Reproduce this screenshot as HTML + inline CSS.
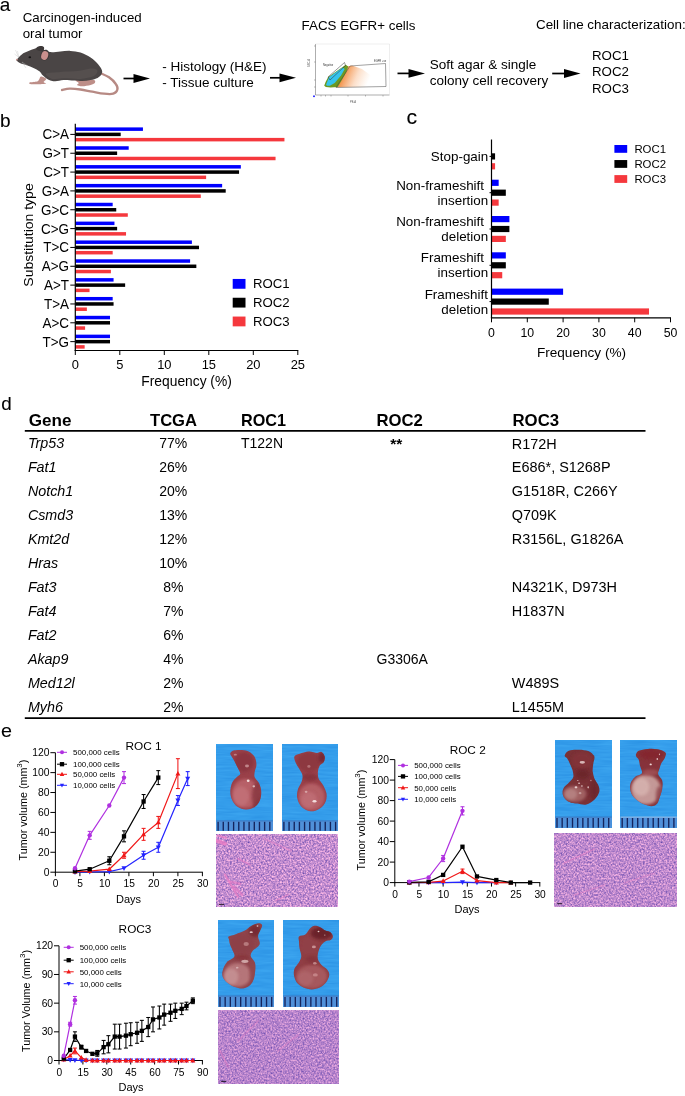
<!DOCTYPE html>
<html lang="en"><head><meta charset="utf-8"><title>Figure</title>
<style>
html,body{margin:0;padding:0;background:#fff;}
body{width:685px;height:1096px;overflow:hidden;}
svg{display:block;font-family:'Liberation Sans', sans-serif;}
</style></head><body>
<svg width="685" height="1096" viewBox="0 0 685 1096">
<rect width="685" height="1096" fill="#fff"/>
<g id="panel-a">
<text x="-0.2" y="11.2" font-size="19" stroke="#000" stroke-width="0.1">a</text>
<text x="22.70" y="21.60" font-size="13.3">Carcinogen-induced</text>
<text x="22.70" y="37.70" font-size="13.3">oral tumor</text>
<text x="162.20" y="71.30" font-size="13.5">- Histology (H&amp;E)</text>
<text x="162.20" y="87.40" font-size="13.5">- Tissue culture</text>
<text x="301.60" y="29.50" font-size="13.35">FACS EGFR+ cells</text>
<text x="429.80" y="68.50" font-size="13.5">Soft agar &amp; single</text>
<text x="429.80" y="84.50" font-size="13.5">colony cell recovery</text>
<text x="536.00" y="28.90" font-size="13.4">Cell line characterization:</text>
<text x="592.00" y="60.20" font-size="13.3">ROC1</text>
<text x="592.00" y="76.40" font-size="13.3">ROC2</text>
<text x="592.00" y="92.80" font-size="13.3">ROC3</text>
<line x1="123.50" y1="78.50" x2="138.00" y2="78.50" stroke="#000" stroke-width="1.7"/>
<polygon points="150.0,78.5 133.5,74.1 133.5,82.9" fill="#000"/>
<line x1="270.00" y1="77.80" x2="284.00" y2="77.80" stroke="#000" stroke-width="1.7"/>
<polygon points="296.0,77.8 279.5,73.4 279.5,82.2" fill="#000"/>
<line x1="397.50" y1="73.40" x2="413.00" y2="73.40" stroke="#000" stroke-width="1.7"/>
<polygon points="425.0,73.4 408.5,69.0 408.5,77.8" fill="#000"/>
<line x1="552.20" y1="73.50" x2="568.50" y2="73.50" stroke="#000" stroke-width="1.7"/>
<polygon points="580.5,73.5 564.0,69.1 564.0,77.9" fill="#000"/>
<g id="mouse">
<path d="M100.6,73.2 C102.0,73.9 106.5,75.5 109.0,77.3 C111.6,79.1 114.4,81.9 115.8,84.0 C117.2,86.0 117.9,87.9 117.4,89.5 C117.0,91.1 115.5,93.0 113.2,93.7 C111.0,94.4 107.5,94.1 104.0,93.7 C100.5,93.4 96.2,92.4 92.3,91.7 C88.3,91.0 84.3,90.0 80.5,89.5 C76.7,89.0 72.7,88.6 69.6,88.7 C66.5,88.8 63.3,89.8 62.0,90.0" fill="none" stroke="#b78a84" stroke-width="2.3" stroke-linecap="round"/>
<path d="M41.1,76.6 C42.2,76.6 45.7,78.1 46.1,78.9 C46.5,79.8 43.6,81.2 43.6,82.0 C43.6,82.8 46.9,83.3 46.1,83.6 C45.3,84.0 41.2,84.3 38.5,84.3 C35.9,84.4 31.6,84.3 30.1,84.0 C28.7,83.7 28.7,83.0 29.8,82.6 C30.9,82.2 35.3,82.2 36.9,81.6 C38.5,81.0 38.7,79.8 39.4,78.9 C40.1,78.1 39.9,76.6 41.1,76.6Z" fill="#bd8e88"/>
<path d="M75.5,80.3 C76.3,79.7 80.8,79.7 83.9,79.6 C86.9,79.6 92.1,79.4 93.9,80.0 C95.8,80.5 95.3,82.1 94.8,83.0 C94.2,83.8 92.7,84.4 90.6,85.0 C88.5,85.5 84.4,86.3 82.2,86.3 C79.9,86.3 77.7,85.5 77.1,85.0 C76.6,84.4 79.1,83.8 78.8,83.0 C78.5,82.2 74.6,80.8 75.5,80.3Z" fill="#bd8e88"/>
<path d="M16.7,59.8 C17.4,58.6 19.8,55.9 21.8,54.4 C23.7,53.0 26.2,52.1 28.5,51.1 C30.7,50.1 33.6,49.2 35.2,48.6 C36.8,47.9 36.8,47.2 38.2,47.4 C39.6,47.6 41.6,49.0 43.6,49.7 C45.6,50.5 47.5,51.8 50.3,52.1 C53.1,52.4 57.0,51.6 60.4,51.4 C63.7,51.2 67.1,50.7 70.4,50.9 C73.8,51.1 77.1,51.5 80.5,52.6 C83.9,53.7 87.6,55.7 90.6,57.6 C93.5,59.6 96.2,62.2 98.1,64.3 C100.0,66.5 101.5,68.8 102.0,70.6 C102.5,72.3 102.0,73.4 101.3,74.6 C100.6,75.8 99.4,77.0 97.6,77.9 C95.8,78.8 93.2,79.4 90.6,80.0 C88.0,80.5 85.0,80.9 82.2,81.0 C79.4,81.0 76.9,80.6 73.8,80.5 C70.7,80.3 66.8,79.8 63.7,80.0 C60.6,80.1 57.6,81.2 55.3,81.3 C53.1,81.4 51.8,81.0 50.3,80.5 C48.7,80.0 47.4,79.1 46.1,78.3 C44.8,77.4 43.9,76.4 42.7,75.3 C41.6,74.1 40.9,72.5 39.4,71.2 C37.8,70.0 35.6,68.8 33.5,67.9 C31.4,66.9 28.9,66.1 26.8,65.3 C24.7,64.6 22.5,64.1 20.9,63.5 C19.4,62.9 18.3,62.1 17.6,61.5 C16.9,60.9 16.0,61.0 16.7,59.8Z" fill="#4a4545"/>
<path d="M46.1,73.6 C47.5,72.4 55.2,72.3 60.4,71.9 C65.5,71.5 72.1,71.6 77.1,71.1 C82.2,70.5 87.2,68.7 90.6,68.5 C93.9,68.4 96.7,69.0 97.3,70.2 C97.9,71.5 96.7,74.6 93.9,76.1 C91.1,77.5 85.5,78.6 80.5,78.9 C75.5,79.3 68.5,78.3 63.7,78.3 C59.0,78.3 54.9,79.7 52.0,78.9 C49.0,78.2 44.7,74.7 46.1,73.6Z" fill="#575150" opacity="0.8"/>
<path d="M36.5,49.4 C36.1,48.7 36.9,47.3 37.7,46.7 C38.5,46.1 40.0,45.8 41.1,45.9 C42.1,45.9 43.5,46.3 43.9,47.1 C44.3,47.8 44.2,49.7 43.6,50.4 C43.0,51.1 41.4,51.2 40.2,51.1 C39.0,50.9 36.9,50.1 36.5,49.4Z" fill="#3d3939"/>
<ellipse cx="44.9" cy="55.1" rx="4.5" ry="5.5" fill="#3d3939" transform="rotate(18 44.9 55.1)"/>
<ellipse cx="44.7" cy="55.5" rx="3.4" ry="4.5" fill="#c9908d" transform="rotate(18 44.7 55.5)"/>
<ellipse cx="29.8" cy="57.3" rx="1.3" ry="1.0" fill="#141212"/>
<circle cx="16.9" cy="59.6" r="0.9" fill="#c9908d"/>
<path d="M18.5,57 L15.5,50 M18.8,57 L17.5,51 M19,57.5 L14.5,54 M22,62 L26,68 M22,62 L28,66" stroke="#bdbdbd" stroke-width="0.35" fill="none"/>
</g>
<g id="facs">
<rect x="313.00" y="43.00" width="78.00" height="54.00" fill="#fff"/>
<line x1="315.50" y1="44.00" x2="315.50" y2="95.00" stroke="#777" stroke-width="0.6"/>
<line x1="315.50" y1="95.00" x2="389.50" y2="95.00" stroke="#777" stroke-width="0.6"/>
<line x1="315.50" y1="44.00" x2="389.50" y2="44.00" stroke="#ddd" stroke-width="0.5"/>
<line x1="389.50" y1="44.00" x2="389.50" y2="95.00" stroke="#ddd" stroke-width="0.5"/>
<defs><linearGradient id="og" x1="0" y1="0" x2="1" y2="0.25"><stop offset="0" stop-color="#ee6a10" stop-opacity="0.95"/><stop offset="0.3" stop-color="#f07a22" stop-opacity="0.8"/><stop offset="0.65" stop-color="#f5934a" stop-opacity="0.3"/><stop offset="1" stop-color="#f8a868" stop-opacity="0"/></linearGradient></defs>
<polygon points="336,87.3 347.5,66.5 352,65.5 362,69 373,77 372,87" fill="url(#og)"/>
<polygon points="324.2,85.7 325.6,81.9 328.2,77.0 342.6,67.1 345.7,64.7 348.2,66.4 346.4,72.0 342.6,78.7 337.7,87.1 330.6,87.5 325.9,87.1" fill="#6b9a23"/>
<polygon points="326.1,84.7 328.9,77.3 342.6,67.5 344.7,68.9 341.2,75.2 334.7,82.9 329.9,85.7 326.8,85.7" fill="#35c4ee"/>
<polygon points="328,77 344.5,62.5 345.5,65.5 330,80" fill="none" stroke="#333" stroke-width="0.5"/>
<polygon points="350,66 385.5,63.5 386,86.5 336,87.5" fill="none" stroke="#444" stroke-width="0.5"/>
<text x="323.00" y="65.50" font-size="2.6" fill="#333">Negative</text>
<text x="374.00" y="61.50" font-size="2.6" fill="#333">EGFR +ve</text>
<text x="350.00" y="102.50" font-size="2.6" fill="#555">PE-A</text>
<text font-size="2.6" fill="#555" transform="translate(310,67) rotate(-90)">SSC-A</text>
<rect x="313.00" y="95.50" width="2.00" height="1.60" fill="#3a3aff"/>
<line x1="321.00" y1="95.00" x2="321.00" y2="96.50" stroke="#777" stroke-width="0.5"/>
<line x1="325.50" y1="95.00" x2="325.50" y2="96.50" stroke="#777" stroke-width="0.5"/>
<line x1="331.00" y1="95.00" x2="331.00" y2="96.50" stroke="#777" stroke-width="0.5"/>
<line x1="348.00" y1="95.00" x2="348.00" y2="96.50" stroke="#777" stroke-width="0.5"/>
<line x1="365.50" y1="95.00" x2="365.50" y2="96.50" stroke="#777" stroke-width="0.5"/>
<line x1="383.00" y1="95.00" x2="383.00" y2="96.50" stroke="#777" stroke-width="0.5"/>
<line x1="314.00" y1="46.00" x2="315.50" y2="46.00" stroke="#777" stroke-width="0.5"/>
<line x1="314.00" y1="62.00" x2="315.50" y2="62.00" stroke="#777" stroke-width="0.5"/>
<line x1="314.00" y1="80.00" x2="315.50" y2="80.00" stroke="#777" stroke-width="0.5"/>
<line x1="314.00" y1="87.00" x2="315.50" y2="87.00" stroke="#777" stroke-width="0.5"/>
</g>
</g>
<g id="panel-b">
<text x="-0.1" y="126.9" font-size="19" stroke="#000" stroke-width="0.1">b</text>
<rect x="75.30" y="127.40" width="67.64" height="3.50" fill="#0000ff"/>
<rect x="75.30" y="132.65" width="45.39" height="3.50" fill="#000000"/>
<rect x="75.30" y="137.90" width="209.15" height="3.50" fill="#f5383d"/>
<line x1="70.30" y1="134.40" x2="75.30" y2="134.40" stroke="#000" stroke-width="1"/>
<text font-size="13.9" text-anchor="end" transform="translate(69.00,139.30) scale(0.97,1)">C&gt;A</text>
<rect x="75.30" y="146.24" width="53.40" height="3.50" fill="#0000ff"/>
<rect x="75.30" y="151.49" width="41.83" height="3.50" fill="#000000"/>
<rect x="75.30" y="156.74" width="200.25" height="3.50" fill="#f5383d"/>
<line x1="70.30" y1="153.24" x2="75.30" y2="153.24" stroke="#000" stroke-width="1"/>
<text font-size="13.9" text-anchor="end" transform="translate(69.00,158.14) scale(0.97,1)">G&gt;T</text>
<rect x="75.30" y="165.08" width="165.54" height="3.50" fill="#0000ff"/>
<rect x="75.30" y="170.33" width="163.76" height="3.50" fill="#000000"/>
<rect x="75.30" y="175.58" width="130.83" height="3.50" fill="#f5383d"/>
<line x1="70.30" y1="172.08" x2="75.30" y2="172.08" stroke="#000" stroke-width="1"/>
<text font-size="13.9" text-anchor="end" transform="translate(69.00,176.98) scale(0.97,1)">C&gt;T</text>
<rect x="75.30" y="183.92" width="146.85" height="3.50" fill="#0000ff"/>
<rect x="75.30" y="189.17" width="150.41" height="3.50" fill="#000000"/>
<rect x="75.30" y="194.42" width="125.49" height="3.50" fill="#f5383d"/>
<line x1="70.30" y1="190.92" x2="75.30" y2="190.92" stroke="#000" stroke-width="1"/>
<text font-size="13.9" text-anchor="end" transform="translate(69.00,195.82) scale(0.97,1)">G&gt;A</text>
<rect x="75.30" y="202.76" width="37.38" height="3.50" fill="#0000ff"/>
<rect x="75.30" y="208.01" width="40.94" height="3.50" fill="#000000"/>
<rect x="75.30" y="213.26" width="52.51" height="3.50" fill="#f5383d"/>
<line x1="70.30" y1="209.76" x2="75.30" y2="209.76" stroke="#000" stroke-width="1"/>
<text font-size="13.9" text-anchor="end" transform="translate(69.00,214.66) scale(0.97,1)">G&gt;C</text>
<rect x="75.30" y="221.60" width="39.16" height="3.50" fill="#0000ff"/>
<rect x="75.30" y="226.85" width="41.83" height="3.50" fill="#000000"/>
<rect x="75.30" y="232.10" width="50.73" height="3.50" fill="#f5383d"/>
<line x1="70.30" y1="228.60" x2="75.30" y2="228.60" stroke="#000" stroke-width="1"/>
<text font-size="13.9" text-anchor="end" transform="translate(69.00,233.50) scale(0.97,1)">C&gt;G</text>
<rect x="75.30" y="240.44" width="116.59" height="3.50" fill="#0000ff"/>
<rect x="75.30" y="245.69" width="123.71" height="3.50" fill="#000000"/>
<rect x="75.30" y="250.94" width="37.38" height="3.50" fill="#f5383d"/>
<line x1="70.30" y1="247.44" x2="75.30" y2="247.44" stroke="#000" stroke-width="1"/>
<text font-size="13.9" text-anchor="end" transform="translate(69.00,252.34) scale(0.97,1)">T&gt;C</text>
<rect x="75.30" y="259.28" width="114.81" height="3.50" fill="#0000ff"/>
<rect x="75.30" y="264.53" width="121.04" height="3.50" fill="#000000"/>
<rect x="75.30" y="269.78" width="35.60" height="3.50" fill="#f5383d"/>
<line x1="70.30" y1="266.28" x2="75.30" y2="266.28" stroke="#000" stroke-width="1"/>
<text font-size="13.9" text-anchor="end" transform="translate(69.00,271.18) scale(0.97,1)">A&gt;G</text>
<rect x="75.30" y="278.12" width="38.27" height="3.50" fill="#0000ff"/>
<rect x="75.30" y="283.37" width="49.84" height="3.50" fill="#000000"/>
<rect x="75.30" y="288.62" width="14.24" height="3.50" fill="#f5383d"/>
<line x1="70.30" y1="285.12" x2="75.30" y2="285.12" stroke="#000" stroke-width="1"/>
<text font-size="13.9" text-anchor="end" transform="translate(69.00,290.02) scale(0.97,1)">A&gt;T</text>
<rect x="75.30" y="296.96" width="37.38" height="3.50" fill="#0000ff"/>
<rect x="75.30" y="302.21" width="38.27" height="3.50" fill="#000000"/>
<rect x="75.30" y="307.46" width="11.57" height="3.50" fill="#f5383d"/>
<line x1="70.30" y1="303.96" x2="75.30" y2="303.96" stroke="#000" stroke-width="1"/>
<text font-size="13.9" text-anchor="end" transform="translate(69.00,308.86) scale(0.97,1)">T&gt;A</text>
<rect x="75.30" y="315.80" width="34.71" height="3.50" fill="#0000ff"/>
<rect x="75.30" y="321.05" width="34.71" height="3.50" fill="#000000"/>
<rect x="75.30" y="326.30" width="9.79" height="3.50" fill="#f5383d"/>
<line x1="70.30" y1="322.80" x2="75.30" y2="322.80" stroke="#000" stroke-width="1"/>
<text font-size="13.9" text-anchor="end" transform="translate(69.00,327.70) scale(0.97,1)">A&gt;C</text>
<rect x="75.30" y="334.64" width="34.71" height="3.50" fill="#0000ff"/>
<rect x="75.30" y="339.89" width="34.71" height="3.50" fill="#000000"/>
<rect x="75.30" y="345.14" width="9.35" height="3.50" fill="#f5383d"/>
<line x1="70.30" y1="341.64" x2="75.30" y2="341.64" stroke="#000" stroke-width="1"/>
<text font-size="13.9" text-anchor="end" transform="translate(69.00,346.54) scale(0.97,1)">T&gt;G</text>
<line x1="75.30" y1="123.80" x2="75.30" y2="351.00" stroke="#000" stroke-width="1.2"/>
<line x1="74.70" y1="350.50" x2="298.30" y2="350.50" stroke="#000" stroke-width="1.2"/>
<line x1="75.30" y1="350.50" x2="75.30" y2="355.00" stroke="#000" stroke-width="1"/>
<text x="75.30" y="368.50" font-size="12.9" text-anchor="middle">0</text>
<line x1="119.80" y1="350.50" x2="119.80" y2="355.00" stroke="#000" stroke-width="1"/>
<text x="119.80" y="368.50" font-size="12.9" text-anchor="middle">5</text>
<line x1="164.30" y1="350.50" x2="164.30" y2="355.00" stroke="#000" stroke-width="1"/>
<text x="164.30" y="368.50" font-size="12.9" text-anchor="middle">10</text>
<line x1="208.80" y1="350.50" x2="208.80" y2="355.00" stroke="#000" stroke-width="1"/>
<text x="208.80" y="368.50" font-size="12.9" text-anchor="middle">15</text>
<line x1="253.30" y1="350.50" x2="253.30" y2="355.00" stroke="#000" stroke-width="1"/>
<text x="253.30" y="368.50" font-size="12.9" text-anchor="middle">20</text>
<line x1="297.80" y1="350.50" x2="297.80" y2="355.00" stroke="#000" stroke-width="1"/>
<text x="297.80" y="368.50" font-size="12.9" text-anchor="middle">25</text>
<text x="186.60" y="386.30" font-size="13.8" text-anchor="middle">Frequency (%)</text>
<text font-size="12.6" text-anchor="middle" transform="translate(33.4,235) rotate(-90) scale(1.11,1)">Substitution type</text>
<rect x="232.70" y="278.95" width="12.80" height="9.80" fill="#0000ff"/>
<text x="253.00" y="288.40" font-size="13.2">ROC1</text>
<rect x="232.70" y="297.75" width="12.80" height="9.80" fill="#000000"/>
<text x="253.00" y="307.20" font-size="13.2">ROC2</text>
<rect x="232.70" y="316.55" width="12.80" height="9.80" fill="#f5383d"/>
<text x="253.00" y="326.00" font-size="13.2">ROC3</text>
</g>
<g id="panel-c">
<text font-size="19.8" stroke="#000" stroke-width="0.1" transform="translate(406.5,124) scale(1.07,1)">c</text>
<rect x="491.50" y="153.30" width="3.58" height="6.20" fill="#000000"/>
<rect x="491.50" y="163.20" width="3.58" height="6.20" fill="#f5383d"/>
<line x1="489.50" y1="156.40" x2="491.50" y2="156.40" stroke="#000" stroke-width="1"/>
<text font-size="13.4" text-anchor="end" transform="translate(488.20,160.80) scale(1.0,1)">Stop-gain</text>
<rect x="491.50" y="179.70" width="7.16" height="6.20" fill="#0000ff"/>
<rect x="491.50" y="189.60" width="14.32" height="6.20" fill="#000000"/>
<rect x="491.50" y="199.50" width="7.16" height="6.20" fill="#f5383d"/>
<line x1="489.50" y1="192.70" x2="491.50" y2="192.70" stroke="#000" stroke-width="1"/>
<text font-size="13.4" text-anchor="end" transform="translate(484.00,189.60) scale(1.0,1)">Non-frameshift</text>
<text font-size="13.4" text-anchor="end" transform="translate(488.20,204.60) scale(1.0,1)">insertion</text>
<rect x="491.50" y="216.00" width="17.90" height="6.20" fill="#0000ff"/>
<rect x="491.50" y="225.90" width="17.90" height="6.20" fill="#000000"/>
<rect x="491.50" y="235.80" width="14.32" height="6.20" fill="#f5383d"/>
<line x1="489.50" y1="229.00" x2="491.50" y2="229.00" stroke="#000" stroke-width="1"/>
<text font-size="13.4" text-anchor="end" transform="translate(484.00,225.90) scale(1.0,1)">Non-frameshift</text>
<text font-size="13.4" text-anchor="end" transform="translate(488.20,240.90) scale(1.0,1)">deletion</text>
<rect x="491.50" y="252.30" width="14.32" height="6.20" fill="#0000ff"/>
<rect x="491.50" y="262.20" width="14.32" height="6.20" fill="#000000"/>
<rect x="491.50" y="272.10" width="10.74" height="6.20" fill="#f5383d"/>
<line x1="489.50" y1="265.30" x2="491.50" y2="265.30" stroke="#000" stroke-width="1"/>
<text font-size="13.4" text-anchor="end" transform="translate(484.00,262.20) scale(1.0,1)">Frameshift</text>
<text font-size="13.4" text-anchor="end" transform="translate(488.20,277.20) scale(1.0,1)">insertion</text>
<rect x="491.50" y="288.60" width="71.60" height="6.20" fill="#0000ff"/>
<rect x="491.50" y="298.50" width="57.28" height="6.20" fill="#000000"/>
<rect x="491.50" y="308.40" width="157.52" height="6.20" fill="#f5383d"/>
<line x1="489.50" y1="301.60" x2="491.50" y2="301.60" stroke="#000" stroke-width="1"/>
<text font-size="13.4" text-anchor="end" transform="translate(487.90,298.50) scale(1.0,1)">Frameshift</text>
<text font-size="13.4" text-anchor="end" transform="translate(488.20,313.50) scale(1.0,1)">deletion</text>
<line x1="491.50" y1="139.50" x2="491.50" y2="318.30" stroke="#000" stroke-width="1.2"/>
<line x1="490.90" y1="317.80" x2="671.00" y2="317.80" stroke="#000" stroke-width="1.2"/>
<line x1="491.50" y1="317.80" x2="491.50" y2="322.30" stroke="#000" stroke-width="1"/>
<text x="491.50" y="336.80" font-size="12.3" text-anchor="middle">0</text>
<line x1="527.30" y1="317.80" x2="527.30" y2="322.30" stroke="#000" stroke-width="1"/>
<text x="527.30" y="336.80" font-size="12.3" text-anchor="middle">10</text>
<line x1="563.10" y1="317.80" x2="563.10" y2="322.30" stroke="#000" stroke-width="1"/>
<text x="563.10" y="336.80" font-size="12.3" text-anchor="middle">20</text>
<line x1="598.90" y1="317.80" x2="598.90" y2="322.30" stroke="#000" stroke-width="1"/>
<text x="598.90" y="336.80" font-size="12.3" text-anchor="middle">30</text>
<line x1="634.70" y1="317.80" x2="634.70" y2="322.30" stroke="#000" stroke-width="1"/>
<text x="634.70" y="336.80" font-size="12.3" text-anchor="middle">40</text>
<line x1="670.50" y1="317.80" x2="670.50" y2="322.30" stroke="#000" stroke-width="1"/>
<text x="670.50" y="336.80" font-size="12.3" text-anchor="middle">50</text>
<text x="581.50" y="357.00" font-size="13.6" text-anchor="middle">Frequency (%)</text>
<rect x="614.40" y="145.00" width="12.80" height="7.80" fill="#0000ff"/>
<text x="634.40" y="152.70" font-size="11.4">ROC1</text>
<rect x="614.40" y="160.05" width="12.80" height="7.80" fill="#000000"/>
<text x="634.40" y="167.75" font-size="11.4">ROC2</text>
<rect x="614.40" y="175.10" width="12.80" height="7.80" fill="#f5383d"/>
<text x="634.40" y="182.80" font-size="11.4">ROC3</text>
</g>
<g id="panel-d">
<text x="1.3" y="410" font-size="18.8" stroke="#000" stroke-width="0.1">d</text>
<text x="28.70" y="426.30" font-size="17.1" font-weight="bold">Gene</text>
<text x="150.00" y="426.30" font-size="16.6" font-weight="bold">TCGA</text>
<text x="241.00" y="426.30" font-size="16.2" font-weight="bold">ROC1</text>
<text x="376.50" y="426.30" font-size="16.7" font-weight="bold">ROC2</text>
<text x="512.50" y="426.30" font-size="16.8" font-weight="bold">ROC3</text>
<line x1="24.80" y1="430.90" x2="645.50" y2="430.90" stroke="#000" stroke-width="1.7"/>
<line x1="24.80" y1="718.10" x2="645.50" y2="718.10" stroke="#000" stroke-width="1.7"/>
<text x="27.90" y="448.20" font-size="14.3" font-style="italic">Trp53</text>
<text x="173.30" y="448.20" font-size="14" text-anchor="middle">77%</text>
<text x="241.00" y="448.20" font-size="14">T122N</text>
<text x="396.30" y="448.70" font-size="15.5" text-anchor="middle" font-weight="bold">**</text>
<text x="511.80" y="448.50" font-size="14.45">R172H</text>
<text x="27.90" y="472.18" font-size="14.3" font-style="italic">Fat1</text>
<text x="173.30" y="472.18" font-size="14" text-anchor="middle">26%</text>
<text x="511.80" y="472.48" font-size="14.45">E686*, S1268P</text>
<text x="27.90" y="496.16" font-size="14.3" font-style="italic">Notch1</text>
<text x="173.30" y="496.16" font-size="14" text-anchor="middle">20%</text>
<text x="511.80" y="496.46" font-size="14.45">G1518R, C266Y</text>
<text x="27.90" y="520.14" font-size="14.3" font-style="italic">Csmd3</text>
<text x="173.30" y="520.14" font-size="14" text-anchor="middle">13%</text>
<text x="511.80" y="520.44" font-size="14.45">Q709K</text>
<text x="27.90" y="544.12" font-size="14.3" font-style="italic">Kmt2d</text>
<text x="173.30" y="544.12" font-size="14" text-anchor="middle">12%</text>
<text x="511.80" y="544.42" font-size="14.45">R3156L, G1826A</text>
<text x="27.90" y="568.10" font-size="14.3" font-style="italic">Hras</text>
<text x="173.30" y="568.10" font-size="14" text-anchor="middle">10%</text>
<text x="27.90" y="592.08" font-size="14.3" font-style="italic">Fat3</text>
<text x="173.30" y="592.08" font-size="14" text-anchor="middle">8%</text>
<text x="511.80" y="592.38" font-size="14.45">N4321K, D973H</text>
<text x="27.90" y="616.06" font-size="14.3" font-style="italic">Fat4</text>
<text x="173.30" y="616.06" font-size="14" text-anchor="middle">7%</text>
<text x="511.80" y="616.36" font-size="14.45">H1837N</text>
<text x="27.90" y="640.04" font-size="14.3" font-style="italic">Fat2</text>
<text x="173.30" y="640.04" font-size="14" text-anchor="middle">6%</text>
<text x="27.90" y="664.02" font-size="14.3" font-style="italic">Akap9</text>
<text x="173.30" y="664.02" font-size="14" text-anchor="middle">4%</text>
<text x="376.50" y="664.02" font-size="14">G3306A</text>
<text x="27.90" y="688.00" font-size="14.3" font-style="italic">Med12l</text>
<text x="173.30" y="688.00" font-size="14" text-anchor="middle">2%</text>
<text x="511.80" y="688.30" font-size="14.45">W489S</text>
<text x="27.90" y="711.98" font-size="14.3" font-style="italic">Myh6</text>
<text x="173.30" y="711.98" font-size="14" text-anchor="middle">2%</text>
<text x="511.80" y="712.28" font-size="14.45">L1455M</text>
</g>
<g id="panel-e">
<text font-size="18.6" stroke="#000" stroke-width="0.1" transform="translate(0.9,736.6) scale(1.06,1)">e</text>
<line x1="55.40" y1="752.70" x2="55.40" y2="872.70" stroke="#000" stroke-width="1"/>
<line x1="54.90" y1="872.20" x2="202.90" y2="872.20" stroke="#000" stroke-width="1"/>
<line x1="50.40" y1="872.20" x2="55.40" y2="872.20" stroke="#000" stroke-width="1"/>
<line x1="50.40" y1="852.28" x2="55.40" y2="852.28" stroke="#000" stroke-width="1"/>
<line x1="50.40" y1="832.37" x2="55.40" y2="832.37" stroke="#000" stroke-width="1"/>
<line x1="50.40" y1="812.45" x2="55.40" y2="812.45" stroke="#000" stroke-width="1"/>
<line x1="50.40" y1="792.53" x2="55.40" y2="792.53" stroke="#000" stroke-width="1"/>
<line x1="50.40" y1="772.62" x2="55.40" y2="772.62" stroke="#000" stroke-width="1"/>
<line x1="50.40" y1="752.70" x2="55.40" y2="752.70" stroke="#000" stroke-width="1"/>
<line x1="55.40" y1="872.20" x2="55.40" y2="876.20" stroke="#000" stroke-width="1"/>
<line x1="79.90" y1="872.20" x2="79.90" y2="876.20" stroke="#000" stroke-width="1"/>
<line x1="104.40" y1="872.20" x2="104.40" y2="876.20" stroke="#000" stroke-width="1"/>
<line x1="128.90" y1="872.20" x2="128.90" y2="876.20" stroke="#000" stroke-width="1"/>
<line x1="153.40" y1="872.20" x2="153.40" y2="876.20" stroke="#000" stroke-width="1"/>
<line x1="177.90" y1="872.20" x2="177.90" y2="876.20" stroke="#000" stroke-width="1"/>
<line x1="202.40" y1="872.20" x2="202.40" y2="876.20" stroke="#000" stroke-width="1"/>
<polyline points="75.00,872.20 89.70,871.90 109.30,871.70 124.00,868.22 143.60,855.27 158.30,847.30 177.90,800.50 187.70,778.59" fill="none" stroke="#2424ff" stroke-width="1.2" stroke-linejoin="round"/>
<line x1="143.60" y1="859.25" x2="143.60" y2="851.29" stroke="#2424ff" stroke-width="1.05"/>
<line x1="141.60" y1="859.25" x2="145.60" y2="859.25" stroke="#2424ff" stroke-width="1.05"/>
<line x1="141.60" y1="851.29" x2="145.60" y2="851.29" stroke="#2424ff" stroke-width="1.05"/>
<line x1="158.30" y1="852.28" x2="158.30" y2="842.33" stroke="#2424ff" stroke-width="1.05"/>
<line x1="156.30" y1="852.28" x2="160.30" y2="852.28" stroke="#2424ff" stroke-width="1.05"/>
<line x1="156.30" y1="842.33" x2="160.30" y2="842.33" stroke="#2424ff" stroke-width="1.05"/>
<line x1="177.90" y1="805.48" x2="177.90" y2="795.52" stroke="#2424ff" stroke-width="1.05"/>
<line x1="175.90" y1="805.48" x2="179.90" y2="805.48" stroke="#2424ff" stroke-width="1.05"/>
<line x1="175.90" y1="795.52" x2="179.90" y2="795.52" stroke="#2424ff" stroke-width="1.05"/>
<line x1="187.70" y1="785.56" x2="187.70" y2="771.62" stroke="#2424ff" stroke-width="1.05"/>
<line x1="185.70" y1="785.56" x2="189.70" y2="785.56" stroke="#2424ff" stroke-width="1.05"/>
<line x1="185.70" y1="771.62" x2="189.70" y2="771.62" stroke="#2424ff" stroke-width="1.05"/>
<polygon points="75.00,874.90 72.50,870.30 77.50,870.30" fill="#2424ff"/>
<polygon points="89.70,874.60 87.20,870.00 92.20,870.00" fill="#2424ff"/>
<polygon points="109.30,874.40 106.80,869.80 111.80,869.80" fill="#2424ff"/>
<polygon points="124.00,870.92 121.50,866.32 126.50,866.32" fill="#2424ff"/>
<polygon points="143.60,857.97 141.10,853.37 146.10,853.37" fill="#2424ff"/>
<polygon points="158.30,850.00 155.80,845.40 160.80,845.40" fill="#2424ff"/>
<polygon points="177.90,803.20 175.40,798.60 180.40,798.60" fill="#2424ff"/>
<polygon points="187.70,781.29 185.20,776.69 190.20,776.69" fill="#2424ff"/>
<polyline points="75.00,871.70 89.70,871.20 109.30,869.21 124.00,855.27 143.60,834.36 158.30,822.41 177.90,773.61" fill="none" stroke="#f01818" stroke-width="1.2" stroke-linejoin="round"/>
<line x1="124.00" y1="858.26" x2="124.00" y2="852.28" stroke="#f01818" stroke-width="1.05"/>
<line x1="122.00" y1="858.26" x2="126.00" y2="858.26" stroke="#f01818" stroke-width="1.05"/>
<line x1="122.00" y1="852.28" x2="126.00" y2="852.28" stroke="#f01818" stroke-width="1.05"/>
<line x1="143.60" y1="840.33" x2="143.60" y2="828.38" stroke="#f01818" stroke-width="1.05"/>
<line x1="141.60" y1="840.33" x2="145.60" y2="840.33" stroke="#f01818" stroke-width="1.05"/>
<line x1="141.60" y1="828.38" x2="145.60" y2="828.38" stroke="#f01818" stroke-width="1.05"/>
<line x1="158.30" y1="828.38" x2="158.30" y2="816.43" stroke="#f01818" stroke-width="1.05"/>
<line x1="156.30" y1="828.38" x2="160.30" y2="828.38" stroke="#f01818" stroke-width="1.05"/>
<line x1="156.30" y1="816.43" x2="160.30" y2="816.43" stroke="#f01818" stroke-width="1.05"/>
<line x1="177.90" y1="788.55" x2="177.90" y2="758.68" stroke="#f01818" stroke-width="1.05"/>
<line x1="175.90" y1="788.55" x2="179.90" y2="788.55" stroke="#f01818" stroke-width="1.05"/>
<line x1="175.90" y1="758.68" x2="179.90" y2="758.68" stroke="#f01818" stroke-width="1.05"/>
<polygon points="75.00,869.00 72.50,873.60 77.50,873.60" fill="#f01818"/>
<polygon points="89.70,868.50 87.20,873.10 92.20,873.10" fill="#f01818"/>
<polygon points="109.30,866.51 106.80,871.11 111.80,871.11" fill="#f01818"/>
<polygon points="124.00,852.57 121.50,857.17 126.50,857.17" fill="#f01818"/>
<polygon points="143.60,831.66 141.10,836.26 146.10,836.26" fill="#f01818"/>
<polygon points="158.30,819.71 155.80,824.31 160.80,824.31" fill="#f01818"/>
<polygon points="177.90,770.91 175.40,775.51 180.40,775.51" fill="#f01818"/>
<polyline points="75.00,871.20 89.70,869.21 109.30,860.75 124.00,836.35 143.60,801.50 158.30,777.60" fill="none" stroke="#000" stroke-width="1.2" stroke-linejoin="round"/>
<line x1="109.30" y1="864.73" x2="109.30" y2="856.76" stroke="#000" stroke-width="1.05"/>
<line x1="107.30" y1="864.73" x2="111.30" y2="864.73" stroke="#000" stroke-width="1.05"/>
<line x1="107.30" y1="856.76" x2="111.30" y2="856.76" stroke="#000" stroke-width="1.05"/>
<line x1="124.00" y1="841.83" x2="124.00" y2="830.87" stroke="#000" stroke-width="1.05"/>
<line x1="122.00" y1="841.83" x2="126.00" y2="841.83" stroke="#000" stroke-width="1.05"/>
<line x1="122.00" y1="830.87" x2="126.00" y2="830.87" stroke="#000" stroke-width="1.05"/>
<line x1="143.60" y1="808.47" x2="143.60" y2="794.53" stroke="#000" stroke-width="1.05"/>
<line x1="141.60" y1="808.47" x2="145.60" y2="808.47" stroke="#000" stroke-width="1.05"/>
<line x1="141.60" y1="794.53" x2="145.60" y2="794.53" stroke="#000" stroke-width="1.05"/>
<line x1="158.30" y1="784.57" x2="158.30" y2="770.62" stroke="#000" stroke-width="1.05"/>
<line x1="156.30" y1="784.57" x2="160.30" y2="784.57" stroke="#000" stroke-width="1.05"/>
<line x1="156.30" y1="770.62" x2="160.30" y2="770.62" stroke="#000" stroke-width="1.05"/>
<rect x="72.85" y="869.05" width="4.30" height="4.30" fill="#000"/>
<rect x="87.55" y="867.06" width="4.30" height="4.30" fill="#000"/>
<rect x="107.15" y="858.60" width="4.30" height="4.30" fill="#000"/>
<rect x="121.85" y="834.20" width="4.30" height="4.30" fill="#000"/>
<rect x="141.45" y="799.35" width="4.30" height="4.30" fill="#000"/>
<rect x="156.15" y="775.45" width="4.30" height="4.30" fill="#000"/>
<polyline points="75.00,868.22 89.70,835.35 109.30,805.48 124.00,777.60" fill="none" stroke="#b030e0" stroke-width="1.2" stroke-linejoin="round"/>
<line x1="89.70" y1="839.34" x2="89.70" y2="831.37" stroke="#b030e0" stroke-width="1.05"/>
<line x1="87.70" y1="839.34" x2="91.70" y2="839.34" stroke="#b030e0" stroke-width="1.05"/>
<line x1="87.70" y1="831.37" x2="91.70" y2="831.37" stroke="#b030e0" stroke-width="1.05"/>
<line x1="124.00" y1="783.57" x2="124.00" y2="771.62" stroke="#b030e0" stroke-width="1.05"/>
<line x1="122.00" y1="783.57" x2="126.00" y2="783.57" stroke="#b030e0" stroke-width="1.05"/>
<line x1="122.00" y1="771.62" x2="126.00" y2="771.62" stroke="#b030e0" stroke-width="1.05"/>
<circle cx="75.00" cy="868.22" r="2.20" fill="#b030e0"/>
<circle cx="89.70" cy="835.35" r="2.20" fill="#b030e0"/>
<circle cx="109.30" cy="805.48" r="2.20" fill="#b030e0"/>
<circle cx="124.00" cy="777.60" r="2.20" fill="#b030e0"/>
<text x="49.50" y="875.85" font-size="10.3" text-anchor="end">0</text>
<text x="49.50" y="855.93" font-size="10.3" text-anchor="end">20</text>
<text x="49.50" y="836.02" font-size="10.3" text-anchor="end">40</text>
<text x="49.50" y="816.10" font-size="10.3" text-anchor="end">60</text>
<text x="49.50" y="796.18" font-size="10.3" text-anchor="end">80</text>
<text x="49.50" y="776.27" font-size="10.3" text-anchor="end">100</text>
<text x="49.50" y="756.35" font-size="10.3" text-anchor="end">120</text>
<text x="55.70" y="887.20" font-size="10.2" text-anchor="middle">0</text>
<text x="80.20" y="887.20" font-size="10.2" text-anchor="middle">5</text>
<text x="104.70" y="887.20" font-size="10.2" text-anchor="middle">10</text>
<text x="129.20" y="887.20" font-size="10.2" text-anchor="middle">15</text>
<text x="153.70" y="887.20" font-size="10.2" text-anchor="middle">20</text>
<text x="178.20" y="887.20" font-size="10.2" text-anchor="middle">25</text>
<text x="202.70" y="887.20" font-size="10.2" text-anchor="middle">30</text>
<text x="143.60" y="749.60" font-size="11.8" text-anchor="middle">ROC 1</text>
<text x="128.60" y="902.60" font-size="11.0" text-anchor="middle">Days</text>
<text font-size="10.75" text-anchor="middle" transform="translate(26.9,810.0) rotate(-90)">Tumor volume (mm<tspan dy="-5.2" font-size="8">3</tspan><tspan dy="5.2">)</tspan></text>
<line x1="57.00" y1="752.30" x2="67.00" y2="752.30" stroke="#b030e0" stroke-width="1"/>
<circle cx="62.00" cy="752.30" r="1.98" fill="#b030e0"/>
<text x="73.10" y="755.10" font-size="7.9">500,000 cells</text>
<line x1="57.00" y1="764.20" x2="67.00" y2="764.20" stroke="#000" stroke-width="1"/>
<rect x="59.85" y="762.05" width="4.30" height="4.30" fill="#000"/>
<text x="73.10" y="767.00" font-size="7.9">100,000 cells</text>
<line x1="57.00" y1="774.30" x2="67.00" y2="774.30" stroke="#f01818" stroke-width="1"/>
<polygon points="62.00,771.87 59.75,776.01 64.25,776.01" fill="#f01818"/>
<text x="73.10" y="777.10" font-size="7.9">50,000 cells</text>
<line x1="57.00" y1="785.30" x2="67.00" y2="785.30" stroke="#2424ff" stroke-width="1"/>
<polygon points="62.00,787.59 59.88,783.68 64.12,783.68" fill="#2424ff"/>
<text x="73.10" y="788.10" font-size="7.9">10,000 cells</text>
<line x1="394.80" y1="759.60" x2="394.80" y2="883.10" stroke="#000" stroke-width="1"/>
<line x1="394.30" y1="882.60" x2="540.30" y2="882.60" stroke="#000" stroke-width="1"/>
<line x1="389.80" y1="882.60" x2="394.80" y2="882.60" stroke="#000" stroke-width="1"/>
<line x1="389.80" y1="862.10" x2="394.80" y2="862.10" stroke="#000" stroke-width="1"/>
<line x1="389.80" y1="841.60" x2="394.80" y2="841.60" stroke="#000" stroke-width="1"/>
<line x1="389.80" y1="821.10" x2="394.80" y2="821.10" stroke="#000" stroke-width="1"/>
<line x1="389.80" y1="800.60" x2="394.80" y2="800.60" stroke="#000" stroke-width="1"/>
<line x1="389.80" y1="780.10" x2="394.80" y2="780.10" stroke="#000" stroke-width="1"/>
<line x1="389.80" y1="759.60" x2="394.80" y2="759.60" stroke="#000" stroke-width="1"/>
<line x1="394.80" y1="882.60" x2="394.80" y2="886.60" stroke="#000" stroke-width="1"/>
<line x1="418.97" y1="882.60" x2="418.97" y2="886.60" stroke="#000" stroke-width="1"/>
<line x1="443.13" y1="882.60" x2="443.13" y2="886.60" stroke="#000" stroke-width="1"/>
<line x1="467.30" y1="882.60" x2="467.30" y2="886.60" stroke="#000" stroke-width="1"/>
<line x1="491.47" y1="882.60" x2="491.47" y2="886.60" stroke="#000" stroke-width="1"/>
<line x1="515.63" y1="882.60" x2="515.63" y2="886.60" stroke="#000" stroke-width="1"/>
<line x1="539.80" y1="882.60" x2="539.80" y2="886.60" stroke="#000" stroke-width="1"/>
<polyline points="409.30,882.60 428.63,882.60 443.13,882.60 462.47,882.19 476.97,882.60 496.30,882.60" fill="none" stroke="#2424ff" stroke-width="1.2" stroke-linejoin="round"/>
<polygon points="409.30,885.30 406.80,880.70 411.80,880.70" fill="#2424ff"/>
<polygon points="428.63,885.30 426.13,880.70 431.13,880.70" fill="#2424ff"/>
<polygon points="443.13,885.30 440.63,880.70 445.63,880.70" fill="#2424ff"/>
<polygon points="462.47,884.89 459.97,880.29 464.97,880.29" fill="#2424ff"/>
<polygon points="476.97,885.30 474.47,880.70 479.47,880.70" fill="#2424ff"/>
<polygon points="496.30,885.30 493.80,880.70 498.80,880.70" fill="#2424ff"/>
<polyline points="409.30,882.60 428.63,882.39 443.13,881.06 462.47,871.33 476.97,880.55 496.30,882.60 510.80,882.60" fill="none" stroke="#f01818" stroke-width="1.2" stroke-linejoin="round"/>
<line x1="462.47" y1="873.58" x2="462.47" y2="869.07" stroke="#f01818" stroke-width="1.05"/>
<line x1="460.47" y1="873.58" x2="464.47" y2="873.58" stroke="#f01818" stroke-width="1.05"/>
<line x1="460.47" y1="869.07" x2="464.47" y2="869.07" stroke="#f01818" stroke-width="1.05"/>
<polygon points="409.30,879.90 406.80,884.50 411.80,884.50" fill="#f01818"/>
<polygon points="428.63,879.69 426.13,884.29 431.13,884.29" fill="#f01818"/>
<polygon points="443.13,878.36 440.63,882.96 445.63,882.96" fill="#f01818"/>
<polygon points="462.47,868.62 459.97,873.23 464.97,873.23" fill="#f01818"/>
<polygon points="476.97,877.85 474.47,882.45 479.47,882.45" fill="#f01818"/>
<polygon points="496.30,879.90 493.80,884.50 498.80,884.50" fill="#f01818"/>
<polygon points="510.80,879.90 508.30,884.50 513.30,884.50" fill="#f01818"/>
<polyline points="409.30,882.39 428.63,881.78 443.13,874.91 462.47,846.73 476.97,876.45 496.30,880.04 510.80,882.60 530.13,882.60" fill="none" stroke="#000" stroke-width="1.2" stroke-linejoin="round"/>
<rect x="407.15" y="880.25" width="4.30" height="4.30" fill="#000"/>
<rect x="426.48" y="879.63" width="4.30" height="4.30" fill="#000"/>
<rect x="440.98" y="872.76" width="4.30" height="4.30" fill="#000"/>
<rect x="460.32" y="844.58" width="4.30" height="4.30" fill="#000"/>
<rect x="474.82" y="874.30" width="4.30" height="4.30" fill="#000"/>
<rect x="494.15" y="877.89" width="4.30" height="4.30" fill="#000"/>
<rect x="508.65" y="880.45" width="4.30" height="4.30" fill="#000"/>
<rect x="527.98" y="880.45" width="4.30" height="4.30" fill="#000"/>
<polyline points="409.30,881.58 428.63,877.48 443.13,858.51 462.47,810.85" fill="none" stroke="#b030e0" stroke-width="1.2" stroke-linejoin="round"/>
<line x1="443.13" y1="861.59" x2="443.13" y2="855.44" stroke="#b030e0" stroke-width="1.05"/>
<line x1="441.13" y1="861.59" x2="445.13" y2="861.59" stroke="#b030e0" stroke-width="1.05"/>
<line x1="441.13" y1="855.44" x2="445.13" y2="855.44" stroke="#b030e0" stroke-width="1.05"/>
<line x1="462.47" y1="814.95" x2="462.47" y2="806.75" stroke="#b030e0" stroke-width="1.05"/>
<line x1="460.47" y1="814.95" x2="464.47" y2="814.95" stroke="#b030e0" stroke-width="1.05"/>
<line x1="460.47" y1="806.75" x2="464.47" y2="806.75" stroke="#b030e0" stroke-width="1.05"/>
<circle cx="409.30" cy="881.58" r="2.20" fill="#b030e0"/>
<circle cx="428.63" cy="877.48" r="2.20" fill="#b030e0"/>
<circle cx="443.13" cy="858.51" r="2.20" fill="#b030e0"/>
<circle cx="462.47" cy="810.85" r="2.20" fill="#b030e0"/>
<text x="388.90" y="886.25" font-size="10.3" text-anchor="end">0</text>
<text x="388.90" y="865.75" font-size="10.3" text-anchor="end">20</text>
<text x="388.90" y="845.25" font-size="10.3" text-anchor="end">40</text>
<text x="388.90" y="824.75" font-size="10.3" text-anchor="end">60</text>
<text x="388.90" y="804.25" font-size="10.3" text-anchor="end">80</text>
<text x="388.90" y="783.75" font-size="10.3" text-anchor="end">100</text>
<text x="388.90" y="763.25" font-size="10.3" text-anchor="end">120</text>
<text x="395.10" y="898.30" font-size="10.2" text-anchor="middle">0</text>
<text x="419.27" y="898.30" font-size="10.2" text-anchor="middle">5</text>
<text x="443.43" y="898.30" font-size="10.2" text-anchor="middle">10</text>
<text x="467.60" y="898.30" font-size="10.2" text-anchor="middle">15</text>
<text x="491.77" y="898.30" font-size="10.2" text-anchor="middle">20</text>
<text x="515.93" y="898.30" font-size="10.2" text-anchor="middle">25</text>
<text x="540.10" y="898.30" font-size="10.2" text-anchor="middle">30</text>
<text x="467.70" y="754.00" font-size="11.8" text-anchor="middle">ROC 2</text>
<text x="467.00" y="913.20" font-size="11.0" text-anchor="middle">Days</text>
<text font-size="10.75" text-anchor="middle" transform="translate(365.1,820.0) rotate(-90)">Tumor volume (mm<tspan dy="-5.2" font-size="8">3</tspan><tspan dy="5.2">)</tspan></text>
<line x1="398.00" y1="765.40" x2="408.00" y2="765.40" stroke="#b030e0" stroke-width="1"/>
<circle cx="403.00" cy="765.40" r="1.98" fill="#b030e0"/>
<text x="414.20" y="768.20" font-size="7.9">500,000 cells</text>
<line x1="398.00" y1="776.40" x2="408.00" y2="776.40" stroke="#000" stroke-width="1"/>
<rect x="400.85" y="774.25" width="4.30" height="4.30" fill="#000"/>
<text x="414.20" y="779.20" font-size="7.9">100,000 cells</text>
<line x1="398.00" y1="787.70" x2="408.00" y2="787.70" stroke="#f01818" stroke-width="1"/>
<polygon points="403.00,785.27 400.75,789.41 405.25,789.41" fill="#f01818"/>
<text x="414.20" y="790.50" font-size="7.9">50,000 cells</text>
<line x1="398.00" y1="799.30" x2="408.00" y2="799.30" stroke="#2424ff" stroke-width="1"/>
<polygon points="403.00,801.59 400.88,797.68 405.12,797.68" fill="#2424ff"/>
<text x="414.20" y="802.10" font-size="7.9">10,000 cells</text>
<line x1="59.00" y1="945.80" x2="59.00" y2="1061.00" stroke="#000" stroke-width="1"/>
<line x1="58.50" y1="1060.50" x2="202.90" y2="1060.50" stroke="#000" stroke-width="1"/>
<line x1="54.00" y1="1060.50" x2="59.00" y2="1060.50" stroke="#000" stroke-width="1"/>
<line x1="54.00" y1="1031.83" x2="59.00" y2="1031.83" stroke="#000" stroke-width="1"/>
<line x1="54.00" y1="1003.15" x2="59.00" y2="1003.15" stroke="#000" stroke-width="1"/>
<line x1="54.00" y1="974.47" x2="59.00" y2="974.47" stroke="#000" stroke-width="1"/>
<line x1="54.00" y1="945.80" x2="59.00" y2="945.80" stroke="#000" stroke-width="1"/>
<line x1="59.00" y1="1060.50" x2="59.00" y2="1064.50" stroke="#000" stroke-width="1"/>
<line x1="82.90" y1="1060.50" x2="82.90" y2="1064.50" stroke="#000" stroke-width="1"/>
<line x1="106.80" y1="1060.50" x2="106.80" y2="1064.50" stroke="#000" stroke-width="1"/>
<line x1="130.70" y1="1060.50" x2="130.70" y2="1064.50" stroke="#000" stroke-width="1"/>
<line x1="154.60" y1="1060.50" x2="154.60" y2="1064.50" stroke="#000" stroke-width="1"/>
<line x1="178.50" y1="1060.50" x2="178.50" y2="1064.50" stroke="#000" stroke-width="1"/>
<line x1="202.40" y1="1060.50" x2="202.40" y2="1064.50" stroke="#000" stroke-width="1"/>
<polyline points="63.78,1059.54 70.15,1060.02 74.93,1060.21 81.31,1060.50 86.09,1060.50 92.46,1060.50 97.24,1060.50 103.61,1060.50 108.39,1060.50 114.77,1060.50 119.55,1060.50 125.92,1060.50 130.70,1060.50 137.07,1060.50 141.85,1060.50 148.23,1060.50 153.01,1060.50 159.38,1060.50 164.16,1060.50 170.53,1060.50 175.31,1060.50 181.69,1060.50 186.47,1060.50 192.84,1060.50" fill="none" stroke="#2424ff" stroke-width="1.2" stroke-linejoin="round"/>
<polygon points="63.78,1062.24 61.28,1057.64 66.28,1057.64" fill="#2424ff"/>
<polygon points="70.15,1062.72 67.65,1058.12 72.65,1058.12" fill="#2424ff"/>
<polygon points="74.93,1062.91 72.43,1058.31 77.43,1058.31" fill="#2424ff"/>
<polygon points="81.31,1063.20 78.81,1058.60 83.81,1058.60" fill="#2424ff"/>
<polygon points="86.09,1063.20 83.59,1058.60 88.59,1058.60" fill="#2424ff"/>
<polygon points="92.46,1063.20 89.96,1058.60 94.96,1058.60" fill="#2424ff"/>
<polygon points="97.24,1063.20 94.74,1058.60 99.74,1058.60" fill="#2424ff"/>
<polygon points="103.61,1063.20 101.11,1058.60 106.11,1058.60" fill="#2424ff"/>
<polygon points="108.39,1063.20 105.89,1058.60 110.89,1058.60" fill="#2424ff"/>
<polygon points="114.77,1063.20 112.27,1058.60 117.27,1058.60" fill="#2424ff"/>
<polygon points="119.55,1063.20 117.05,1058.60 122.05,1058.60" fill="#2424ff"/>
<polygon points="125.92,1063.20 123.42,1058.60 128.42,1058.60" fill="#2424ff"/>
<polygon points="130.70,1063.20 128.20,1058.60 133.20,1058.60" fill="#2424ff"/>
<polygon points="137.07,1063.20 134.57,1058.60 139.57,1058.60" fill="#2424ff"/>
<polygon points="141.85,1063.20 139.35,1058.60 144.35,1058.60" fill="#2424ff"/>
<polygon points="148.23,1063.20 145.73,1058.60 150.73,1058.60" fill="#2424ff"/>
<polygon points="153.01,1063.20 150.51,1058.60 155.51,1058.60" fill="#2424ff"/>
<polygon points="159.38,1063.20 156.88,1058.60 161.88,1058.60" fill="#2424ff"/>
<polygon points="164.16,1063.20 161.66,1058.60 166.66,1058.60" fill="#2424ff"/>
<polygon points="170.53,1063.20 168.03,1058.60 173.03,1058.60" fill="#2424ff"/>
<polygon points="175.31,1063.20 172.81,1058.60 177.81,1058.60" fill="#2424ff"/>
<polygon points="181.69,1063.20 179.19,1058.60 184.19,1058.60" fill="#2424ff"/>
<polygon points="186.47,1063.20 183.97,1058.60 188.97,1058.60" fill="#2424ff"/>
<polygon points="192.84,1063.20 190.34,1058.60 195.34,1058.60" fill="#2424ff"/>
<polyline points="63.78,1059.54 70.15,1055.72 74.93,1050.94 81.31,1057.63 86.09,1060.02 92.46,1060.50 97.24,1060.50 103.61,1060.50 108.39,1060.50 114.77,1060.50 119.55,1060.50 125.92,1060.50 130.70,1060.50 137.07,1060.50 141.85,1060.50 148.23,1060.50 153.01,1060.50 159.38,1060.50 164.16,1060.50 170.53,1060.50 175.31,1060.50 181.69,1060.50 186.47,1060.50 192.84,1060.50" fill="none" stroke="#f01818" stroke-width="1.2" stroke-linejoin="round"/>
<line x1="74.93" y1="1053.81" x2="74.93" y2="1048.07" stroke="#f01818" stroke-width="1.05"/>
<line x1="72.93" y1="1053.81" x2="76.93" y2="1053.81" stroke="#f01818" stroke-width="1.05"/>
<line x1="72.93" y1="1048.07" x2="76.93" y2="1048.07" stroke="#f01818" stroke-width="1.05"/>
<polygon points="63.78,1056.84 61.28,1061.44 66.28,1061.44" fill="#f01818"/>
<polygon points="70.15,1053.02 67.65,1057.62 72.65,1057.62" fill="#f01818"/>
<polygon points="74.93,1048.24 72.43,1052.84 77.43,1052.84" fill="#f01818"/>
<polygon points="81.31,1054.93 78.81,1059.53 83.81,1059.53" fill="#f01818"/>
<polygon points="86.09,1057.32 83.59,1061.92 88.59,1061.92" fill="#f01818"/>
<polygon points="92.46,1057.80 89.96,1062.40 94.96,1062.40" fill="#f01818"/>
<polygon points="97.24,1057.80 94.74,1062.40 99.74,1062.40" fill="#f01818"/>
<polygon points="103.61,1057.80 101.11,1062.40 106.11,1062.40" fill="#f01818"/>
<polygon points="108.39,1057.80 105.89,1062.40 110.89,1062.40" fill="#f01818"/>
<polygon points="114.77,1057.80 112.27,1062.40 117.27,1062.40" fill="#f01818"/>
<polygon points="119.55,1057.80 117.05,1062.40 122.05,1062.40" fill="#f01818"/>
<polygon points="125.92,1057.80 123.42,1062.40 128.42,1062.40" fill="#f01818"/>
<polygon points="130.70,1057.80 128.20,1062.40 133.20,1062.40" fill="#f01818"/>
<polygon points="137.07,1057.80 134.57,1062.40 139.57,1062.40" fill="#f01818"/>
<polygon points="141.85,1057.80 139.35,1062.40 144.35,1062.40" fill="#f01818"/>
<polygon points="148.23,1057.80 145.73,1062.40 150.73,1062.40" fill="#f01818"/>
<polygon points="153.01,1057.80 150.51,1062.40 155.51,1062.40" fill="#f01818"/>
<polygon points="159.38,1057.80 156.88,1062.40 161.88,1062.40" fill="#f01818"/>
<polygon points="164.16,1057.80 161.66,1062.40 166.66,1062.40" fill="#f01818"/>
<polygon points="170.53,1057.80 168.03,1062.40 173.03,1062.40" fill="#f01818"/>
<polygon points="175.31,1057.80 172.81,1062.40 177.81,1062.40" fill="#f01818"/>
<polygon points="181.69,1057.80 179.19,1062.40 184.19,1062.40" fill="#f01818"/>
<polygon points="186.47,1057.80 183.97,1062.40 188.97,1062.40" fill="#f01818"/>
<polygon points="192.84,1057.80 190.34,1062.40 195.34,1062.40" fill="#f01818"/>
<polyline points="63.78,1058.59 70.15,1049.99 74.93,1036.60 81.31,1047.12 86.09,1050.94 92.46,1053.81 97.24,1053.33 103.61,1047.12 108.39,1044.25 114.77,1036.60 119.55,1036.60 125.92,1035.65 130.70,1034.21 137.07,1032.78 141.85,1030.87 148.23,1027.05 153.01,1019.40 159.38,1017.49 164.16,1014.62 170.53,1012.71 175.31,1010.80 181.69,1008.88 186.47,1006.02 192.84,1000.76" fill="none" stroke="#000" stroke-width="1.2" stroke-linejoin="round"/>
<line x1="74.93" y1="1041.38" x2="74.93" y2="1031.83" stroke="#000" stroke-width="1.05"/>
<line x1="72.93" y1="1041.38" x2="76.93" y2="1041.38" stroke="#000" stroke-width="1.05"/>
<line x1="72.93" y1="1031.83" x2="76.93" y2="1031.83" stroke="#000" stroke-width="1.05"/>
<line x1="81.31" y1="1049.03" x2="81.31" y2="1045.21" stroke="#000" stroke-width="1.05"/>
<line x1="79.31" y1="1049.03" x2="83.31" y2="1049.03" stroke="#000" stroke-width="1.05"/>
<line x1="79.31" y1="1045.21" x2="83.31" y2="1045.21" stroke="#000" stroke-width="1.05"/>
<line x1="97.24" y1="1056.20" x2="97.24" y2="1050.46" stroke="#000" stroke-width="1.05"/>
<line x1="95.24" y1="1056.20" x2="99.24" y2="1056.20" stroke="#000" stroke-width="1.05"/>
<line x1="95.24" y1="1050.46" x2="99.24" y2="1050.46" stroke="#000" stroke-width="1.05"/>
<line x1="103.61" y1="1053.81" x2="103.61" y2="1040.43" stroke="#000" stroke-width="1.05"/>
<line x1="101.61" y1="1053.81" x2="105.61" y2="1053.81" stroke="#000" stroke-width="1.05"/>
<line x1="101.61" y1="1040.43" x2="105.61" y2="1040.43" stroke="#000" stroke-width="1.05"/>
<line x1="108.39" y1="1052.85" x2="108.39" y2="1035.65" stroke="#000" stroke-width="1.05"/>
<line x1="106.39" y1="1052.85" x2="110.39" y2="1052.85" stroke="#000" stroke-width="1.05"/>
<line x1="106.39" y1="1035.65" x2="110.39" y2="1035.65" stroke="#000" stroke-width="1.05"/>
<line x1="114.77" y1="1049.03" x2="114.77" y2="1024.18" stroke="#000" stroke-width="1.05"/>
<line x1="112.77" y1="1049.03" x2="116.77" y2="1049.03" stroke="#000" stroke-width="1.05"/>
<line x1="112.77" y1="1024.18" x2="116.77" y2="1024.18" stroke="#000" stroke-width="1.05"/>
<line x1="119.55" y1="1049.03" x2="119.55" y2="1024.18" stroke="#000" stroke-width="1.05"/>
<line x1="117.55" y1="1049.03" x2="121.55" y2="1049.03" stroke="#000" stroke-width="1.05"/>
<line x1="117.55" y1="1024.18" x2="121.55" y2="1024.18" stroke="#000" stroke-width="1.05"/>
<line x1="125.92" y1="1048.07" x2="125.92" y2="1023.22" stroke="#000" stroke-width="1.05"/>
<line x1="123.92" y1="1048.07" x2="127.92" y2="1048.07" stroke="#000" stroke-width="1.05"/>
<line x1="123.92" y1="1023.22" x2="127.92" y2="1023.22" stroke="#000" stroke-width="1.05"/>
<line x1="130.70" y1="1045.68" x2="130.70" y2="1022.74" stroke="#000" stroke-width="1.05"/>
<line x1="128.70" y1="1045.68" x2="132.70" y2="1045.68" stroke="#000" stroke-width="1.05"/>
<line x1="128.70" y1="1022.74" x2="132.70" y2="1022.74" stroke="#000" stroke-width="1.05"/>
<line x1="137.07" y1="1043.30" x2="137.07" y2="1022.27" stroke="#000" stroke-width="1.05"/>
<line x1="135.07" y1="1043.30" x2="139.07" y2="1043.30" stroke="#000" stroke-width="1.05"/>
<line x1="135.07" y1="1022.27" x2="139.07" y2="1022.27" stroke="#000" stroke-width="1.05"/>
<line x1="141.85" y1="1041.38" x2="141.85" y2="1020.36" stroke="#000" stroke-width="1.05"/>
<line x1="139.85" y1="1041.38" x2="143.85" y2="1041.38" stroke="#000" stroke-width="1.05"/>
<line x1="139.85" y1="1020.36" x2="143.85" y2="1020.36" stroke="#000" stroke-width="1.05"/>
<line x1="148.23" y1="1036.60" x2="148.23" y2="1017.49" stroke="#000" stroke-width="1.05"/>
<line x1="146.23" y1="1036.60" x2="150.23" y2="1036.60" stroke="#000" stroke-width="1.05"/>
<line x1="146.23" y1="1017.49" x2="150.23" y2="1017.49" stroke="#000" stroke-width="1.05"/>
<line x1="153.01" y1="1031.83" x2="153.01" y2="1006.97" stroke="#000" stroke-width="1.05"/>
<line x1="151.01" y1="1031.83" x2="155.01" y2="1031.83" stroke="#000" stroke-width="1.05"/>
<line x1="151.01" y1="1006.97" x2="155.01" y2="1006.97" stroke="#000" stroke-width="1.05"/>
<line x1="159.38" y1="1028.96" x2="159.38" y2="1006.02" stroke="#000" stroke-width="1.05"/>
<line x1="157.38" y1="1028.96" x2="161.38" y2="1028.96" stroke="#000" stroke-width="1.05"/>
<line x1="157.38" y1="1006.02" x2="161.38" y2="1006.02" stroke="#000" stroke-width="1.05"/>
<line x1="164.16" y1="1025.13" x2="164.16" y2="1004.11" stroke="#000" stroke-width="1.05"/>
<line x1="162.16" y1="1025.13" x2="166.16" y2="1025.13" stroke="#000" stroke-width="1.05"/>
<line x1="162.16" y1="1004.11" x2="166.16" y2="1004.11" stroke="#000" stroke-width="1.05"/>
<line x1="170.53" y1="1021.31" x2="170.53" y2="1004.11" stroke="#000" stroke-width="1.05"/>
<line x1="168.53" y1="1021.31" x2="172.53" y2="1021.31" stroke="#000" stroke-width="1.05"/>
<line x1="168.53" y1="1004.11" x2="172.53" y2="1004.11" stroke="#000" stroke-width="1.05"/>
<line x1="175.31" y1="1018.44" x2="175.31" y2="1003.15" stroke="#000" stroke-width="1.05"/>
<line x1="173.31" y1="1018.44" x2="177.31" y2="1018.44" stroke="#000" stroke-width="1.05"/>
<line x1="173.31" y1="1003.15" x2="177.31" y2="1003.15" stroke="#000" stroke-width="1.05"/>
<line x1="181.69" y1="1014.62" x2="181.69" y2="1003.15" stroke="#000" stroke-width="1.05"/>
<line x1="179.69" y1="1014.62" x2="183.69" y2="1014.62" stroke="#000" stroke-width="1.05"/>
<line x1="179.69" y1="1003.15" x2="183.69" y2="1003.15" stroke="#000" stroke-width="1.05"/>
<line x1="186.47" y1="1009.84" x2="186.47" y2="1002.19" stroke="#000" stroke-width="1.05"/>
<line x1="184.47" y1="1009.84" x2="188.47" y2="1009.84" stroke="#000" stroke-width="1.05"/>
<line x1="184.47" y1="1002.19" x2="188.47" y2="1002.19" stroke="#000" stroke-width="1.05"/>
<line x1="192.84" y1="1003.63" x2="192.84" y2="997.89" stroke="#000" stroke-width="1.05"/>
<line x1="190.84" y1="1003.63" x2="194.84" y2="1003.63" stroke="#000" stroke-width="1.05"/>
<line x1="190.84" y1="997.89" x2="194.84" y2="997.89" stroke="#000" stroke-width="1.05"/>
<rect x="61.63" y="1056.44" width="4.30" height="4.30" fill="#000"/>
<rect x="68.00" y="1047.84" width="4.30" height="4.30" fill="#000"/>
<rect x="72.78" y="1034.45" width="4.30" height="4.30" fill="#000"/>
<rect x="79.16" y="1044.97" width="4.30" height="4.30" fill="#000"/>
<rect x="83.94" y="1048.79" width="4.30" height="4.30" fill="#000"/>
<rect x="90.31" y="1051.66" width="4.30" height="4.30" fill="#000"/>
<rect x="95.09" y="1051.18" width="4.30" height="4.30" fill="#000"/>
<rect x="101.46" y="1044.97" width="4.30" height="4.30" fill="#000"/>
<rect x="106.24" y="1042.10" width="4.30" height="4.30" fill="#000"/>
<rect x="112.62" y="1034.45" width="4.30" height="4.30" fill="#000"/>
<rect x="117.40" y="1034.45" width="4.30" height="4.30" fill="#000"/>
<rect x="123.77" y="1033.50" width="4.30" height="4.30" fill="#000"/>
<rect x="128.55" y="1032.06" width="4.30" height="4.30" fill="#000"/>
<rect x="134.92" y="1030.63" width="4.30" height="4.30" fill="#000"/>
<rect x="139.70" y="1028.72" width="4.30" height="4.30" fill="#000"/>
<rect x="146.08" y="1024.90" width="4.30" height="4.30" fill="#000"/>
<rect x="150.86" y="1017.25" width="4.30" height="4.30" fill="#000"/>
<rect x="157.23" y="1015.34" width="4.30" height="4.30" fill="#000"/>
<rect x="162.01" y="1012.47" width="4.30" height="4.30" fill="#000"/>
<rect x="168.38" y="1010.56" width="4.30" height="4.30" fill="#000"/>
<rect x="173.16" y="1008.65" width="4.30" height="4.30" fill="#000"/>
<rect x="179.54" y="1006.74" width="4.30" height="4.30" fill="#000"/>
<rect x="184.32" y="1003.87" width="4.30" height="4.30" fill="#000"/>
<rect x="190.69" y="998.61" width="4.30" height="4.30" fill="#000"/>
<polyline points="63.78,1055.72 70.15,1024.18 74.93,1000.28" fill="none" stroke="#b030e0" stroke-width="1.2" stroke-linejoin="round"/>
<line x1="70.15" y1="1026.09" x2="70.15" y2="1022.27" stroke="#b030e0" stroke-width="1.05"/>
<line x1="68.15" y1="1026.09" x2="72.15" y2="1026.09" stroke="#b030e0" stroke-width="1.05"/>
<line x1="68.15" y1="1022.27" x2="72.15" y2="1022.27" stroke="#b030e0" stroke-width="1.05"/>
<line x1="74.93" y1="1004.11" x2="74.93" y2="996.46" stroke="#b030e0" stroke-width="1.05"/>
<line x1="72.93" y1="1004.11" x2="76.93" y2="1004.11" stroke="#b030e0" stroke-width="1.05"/>
<line x1="72.93" y1="996.46" x2="76.93" y2="996.46" stroke="#b030e0" stroke-width="1.05"/>
<circle cx="63.78" cy="1055.72" r="2.20" fill="#b030e0"/>
<circle cx="70.15" cy="1024.18" r="2.20" fill="#b030e0"/>
<circle cx="74.93" cy="1000.28" r="2.20" fill="#b030e0"/>
<text x="53.10" y="1064.15" font-size="10.3" text-anchor="end">0</text>
<text x="53.10" y="1035.48" font-size="10.3" text-anchor="end">30</text>
<text x="53.10" y="1006.80" font-size="10.3" text-anchor="end">60</text>
<text x="53.10" y="978.12" font-size="10.3" text-anchor="end">90</text>
<text x="53.10" y="949.45" font-size="10.3" text-anchor="end">120</text>
<text x="59.30" y="1075.90" font-size="10.2" text-anchor="middle">0</text>
<text x="83.20" y="1075.90" font-size="10.2" text-anchor="middle">15</text>
<text x="107.10" y="1075.90" font-size="10.2" text-anchor="middle">30</text>
<text x="131.00" y="1075.90" font-size="10.2" text-anchor="middle">45</text>
<text x="154.90" y="1075.90" font-size="10.2" text-anchor="middle">60</text>
<text x="178.80" y="1075.90" font-size="10.2" text-anchor="middle">75</text>
<text x="202.70" y="1075.90" font-size="10.2" text-anchor="middle">90</text>
<text x="135.00" y="932.70" font-size="11.8" text-anchor="middle">ROC3</text>
<text x="131.00" y="1091.20" font-size="11.0" text-anchor="middle">Days</text>
<text font-size="10.75" text-anchor="middle" transform="translate(30.1,1001.0) rotate(-90)">Tumor Volume (mm<tspan dy="-5.2" font-size="8">3</tspan><tspan dy="5.2">)</tspan></text>
<line x1="63.70" y1="947.30" x2="73.70" y2="947.30" stroke="#b030e0" stroke-width="1"/>
<circle cx="68.70" cy="947.30" r="1.98" fill="#b030e0"/>
<text x="79.70" y="950.10" font-size="7.9">500,000 cells</text>
<line x1="63.70" y1="960.20" x2="73.70" y2="960.20" stroke="#000" stroke-width="1"/>
<rect x="66.55" y="958.05" width="4.30" height="4.30" fill="#000"/>
<text x="79.70" y="963.00" font-size="7.9">100,000 cells</text>
<line x1="63.70" y1="971.80" x2="73.70" y2="971.80" stroke="#f01818" stroke-width="1"/>
<polygon points="68.70,969.37 66.45,973.51 70.95,973.51" fill="#f01818"/>
<text x="79.70" y="974.60" font-size="7.9">50,000 cells</text>
<line x1="63.70" y1="983.70" x2="73.70" y2="983.70" stroke="#2424ff" stroke-width="1"/>
<polygon points="68.70,986.00 66.58,982.09 70.83,982.09" fill="#2424ff"/>
<text x="79.70" y="986.50" font-size="7.9">10,000 cells</text>
<defs>
<filter id="he" x="0" y="0" width="100%" height="100%" color-interpolation-filters="sRGB">
<feTurbulence type="fractalNoise" baseFrequency="0.62 0.55" numOctaves="2" seed="7" result="n"/>
<feColorMatrix in="n" type="matrix" values="-0.9 0 0 0 1.215  -0.66 0 0 0 0.885  -0.34 0 0 0 0.985  0 0 0 0 1"/>
</filter>
<filter id="cloth" x="0" y="0" width="100%" height="100%" color-interpolation-filters="sRGB">
<feTurbulence type="fractalNoise" baseFrequency="0.04 0.5" numOctaves="2" seed="3" result="n"/>
<feColorMatrix in="n" type="matrix" values="0.09 0 0 0 0.16  0.1 0 0 0 0.565  0.06 0 0 0 0.89  0 0 0 0 1"/>
</filter>
<filter id="soft" x="-10%" y="-10%" width="120%" height="120%"><feGaussianBlur stdDeviation="0.55"/></filter>
<filter id="soft2" x="-30%" y="-30%" width="160%" height="160%"><feGaussianBlur stdDeviation="1.6"/></filter>
<filter id="hl" x="-50%" y="-50%" width="200%" height="200%"><feGaussianBlur stdDeviation="0.45"/></filter>
</defs>
<g>
<rect x="216.30" y="744.10" width="56.60" height="86.70" fill="#2c8ad6" filter="url(#cloth)"/>
<rect x="216.30" y="820.60" width="56.60" height="10.20" fill="#5090d9"/>
<line x1="218.10" y1="821.80" x2="218.10" y2="830.80" stroke="#14245c" stroke-width="1.35"/>
<line x1="223.27" y1="821.80" x2="223.27" y2="830.80" stroke="#14245c" stroke-width="1.35"/>
<line x1="228.44" y1="821.80" x2="228.44" y2="830.80" stroke="#14245c" stroke-width="1.35"/>
<line x1="233.61" y1="821.80" x2="233.61" y2="830.80" stroke="#14245c" stroke-width="1.35"/>
<line x1="238.78" y1="821.80" x2="238.78" y2="830.80" stroke="#14245c" stroke-width="1.35"/>
<line x1="243.95" y1="821.80" x2="243.95" y2="830.80" stroke="#14245c" stroke-width="1.35"/>
<line x1="249.12" y1="821.80" x2="249.12" y2="830.80" stroke="#14245c" stroke-width="1.35"/>
<line x1="254.29" y1="821.80" x2="254.29" y2="830.80" stroke="#14245c" stroke-width="1.35"/>
<line x1="259.46" y1="821.80" x2="259.46" y2="830.80" stroke="#14245c" stroke-width="1.35"/>
<line x1="264.63" y1="821.80" x2="264.63" y2="830.80" stroke="#14245c" stroke-width="1.35"/>
<line x1="269.80" y1="821.80" x2="269.80" y2="830.80" stroke="#14245c" stroke-width="1.35"/>
<line x1="216.30" y1="820.90" x2="272.90" y2="820.90" stroke="#2f6fb8" stroke-width="0.7"/>
<clipPath id="tc1"><path d="M230.3,753.3 C230.6,752.3 231.8,751.2 233.5,750.6 C235.1,750.0 237.9,749.9 240.2,750.0 C242.6,750.0 245.4,750.3 247.5,751.0 C249.6,751.8 251.6,753.3 252.9,754.7 C254.3,756.0 255.1,757.4 255.6,759.2 C256.2,761.0 256.5,763.4 256.4,765.5 C256.2,767.6 255.0,769.9 254.7,771.9 C254.5,773.8 254.0,775.3 254.7,777.3 C255.5,779.3 258.2,781.2 259.2,783.6 C260.3,786.0 261.2,788.9 261.2,791.8 C261.3,794.6 260.9,798.2 259.7,800.8 C258.5,803.5 256.2,806.2 253.8,807.6 C251.5,809.0 248.4,809.6 245.7,809.4 C243.0,809.3 239.8,808.3 237.5,806.7 C235.3,805.1 233.3,802.4 232.1,799.9 C230.9,797.4 230.3,794.6 230.3,791.8 C230.3,788.9 231.0,785.2 232.1,782.7 C233.2,780.2 235.7,778.3 237.1,776.8 C238.4,775.3 240.2,775.3 240.2,773.7 C240.3,772.1 238.5,769.5 237.5,767.3 C236.5,765.2 235.3,762.8 234.4,761.0 C233.4,759.2 232.3,757.8 231.6,756.5 C231.0,755.2 230.0,754.3 230.3,753.3Z"/></clipPath><g filter="url(#soft)"><path d="M230.3,753.3 C230.6,752.3 231.8,751.2 233.5,750.6 C235.1,750.0 237.9,749.9 240.2,750.0 C242.6,750.0 245.4,750.3 247.5,751.0 C249.6,751.8 251.6,753.3 252.9,754.7 C254.3,756.0 255.1,757.4 255.6,759.2 C256.2,761.0 256.5,763.4 256.4,765.5 C256.2,767.6 255.0,769.9 254.7,771.9 C254.5,773.8 254.0,775.3 254.7,777.3 C255.5,779.3 258.2,781.2 259.2,783.6 C260.3,786.0 261.2,788.9 261.2,791.8 C261.3,794.6 260.9,798.2 259.7,800.8 C258.5,803.5 256.2,806.2 253.8,807.6 C251.5,809.0 248.4,809.6 245.7,809.4 C243.0,809.3 239.8,808.3 237.5,806.7 C235.3,805.1 233.3,802.4 232.1,799.9 C230.9,797.4 230.3,794.6 230.3,791.8 C230.3,788.9 231.0,785.2 232.1,782.7 C233.2,780.2 235.7,778.3 237.1,776.8 C238.4,775.3 240.2,775.3 240.2,773.7 C240.3,772.1 238.5,769.5 237.5,767.3 C236.5,765.2 235.3,762.8 234.4,761.0 C233.4,759.2 232.3,757.8 231.6,756.5 C231.0,755.2 230.0,754.3 230.3,753.3Z" fill="#9a4049"/><g clip-path="url(#tc1)"><ellipse cx="245.7" cy="793.6" rx="13.6" ry="14.5" fill="#b9626a" opacity="0.95" filter="url(#soft2)"/><ellipse cx="241.1" cy="796.3" rx="8.1" ry="10.0" fill="#c5747b" opacity="0.7" filter="url(#soft2)"/><ellipse cx="243.9" cy="761.9" rx="10.0" ry="10.0" fill="#8a353f" opacity="0.9" filter="url(#soft2)"/><ellipse cx="256.5" cy="796.3" rx="4.5" ry="13.6" fill="#7e2e38" opacity="0.7" filter="url(#soft2)"/><ellipse cx="248.2" cy="780.7" rx="1.4" ry="1.3" fill="#f6e4e2" opacity="0.95" filter="url(#hl)"/><ellipse cx="253.8" cy="786.3" rx="1.3" ry="1.1" fill="#f6e4e2" opacity="0.7" filter="url(#hl)"/><ellipse cx="247.0" cy="766.0" rx="2.0" ry="1.4" fill="#d9a8a8" opacity="0.7" filter="url(#hl)"/><ellipse cx="235.3" cy="754.7" rx="1.6" ry="0.9" fill="#d9a8a8" opacity="0.6" filter="url(#hl)"/></g></g>
</g>
<g>
<rect x="282.10" y="744.10" width="55.80" height="86.70" fill="#2c8ad6" filter="url(#cloth)"/>
<rect x="282.10" y="820.60" width="55.80" height="10.20" fill="#5090d9"/>
<line x1="283.90" y1="821.80" x2="283.90" y2="830.80" stroke="#14245c" stroke-width="1.35"/>
<line x1="289.07" y1="821.80" x2="289.07" y2="830.80" stroke="#14245c" stroke-width="1.35"/>
<line x1="294.24" y1="821.80" x2="294.24" y2="830.80" stroke="#14245c" stroke-width="1.35"/>
<line x1="299.41" y1="821.80" x2="299.41" y2="830.80" stroke="#14245c" stroke-width="1.35"/>
<line x1="304.58" y1="821.80" x2="304.58" y2="830.80" stroke="#14245c" stroke-width="1.35"/>
<line x1="309.75" y1="821.80" x2="309.75" y2="830.80" stroke="#14245c" stroke-width="1.35"/>
<line x1="314.92" y1="821.80" x2="314.92" y2="830.80" stroke="#14245c" stroke-width="1.35"/>
<line x1="320.09" y1="821.80" x2="320.09" y2="830.80" stroke="#14245c" stroke-width="1.35"/>
<line x1="325.26" y1="821.80" x2="325.26" y2="830.80" stroke="#14245c" stroke-width="1.35"/>
<line x1="330.43" y1="821.80" x2="330.43" y2="830.80" stroke="#14245c" stroke-width="1.35"/>
<line x1="335.60" y1="821.80" x2="335.60" y2="830.80" stroke="#14245c" stroke-width="1.35"/>
<line x1="282.10" y1="820.90" x2="337.90" y2="820.90" stroke="#2f6fb8" stroke-width="0.7"/>
<clipPath id="tc2"><path d="M294.4,756.5 C295.1,755.0 297.4,754.6 299.8,753.8 C302.2,752.9 306.0,751.7 308.9,751.5 C311.7,751.4 314.9,752.8 317.0,752.9 C319.1,752.9 320.3,751.4 321.5,752.0 C322.8,752.6 324.3,754.8 324.7,756.5 C325.1,758.1 324.6,760.4 323.8,761.9 C323.0,763.4 320.7,763.9 319.7,765.5 C318.7,767.2 318.1,769.6 317.9,771.9 C317.8,774.1 317.9,776.8 318.8,779.1 C319.7,781.4 322.1,783.0 323.3,785.4 C324.6,787.9 326.1,790.9 326.5,793.6 C326.9,796.3 326.6,799.3 325.6,801.7 C324.6,804.1 322.7,806.5 320.6,808.1 C318.6,809.6 315.8,810.9 313.4,811.2 C311.0,811.5 308.3,810.9 306.1,809.9 C304.0,808.9 301.8,807.5 300.3,805.3 C298.8,803.2 297.5,799.9 297.1,797.2 C296.7,794.5 297.3,791.6 298.0,789.1 C298.8,786.5 300.9,784.1 301.6,781.8 C302.4,779.6 302.9,777.6 302.5,775.5 C302.2,773.4 300.5,771.3 299.4,769.1 C298.2,767.0 296.6,764.9 295.7,762.8 C294.9,760.7 293.7,758.0 294.4,756.5Z"/></clipPath><g filter="url(#soft)"><path d="M294.4,756.5 C295.1,755.0 297.4,754.6 299.8,753.8 C302.2,752.9 306.0,751.7 308.9,751.5 C311.7,751.4 314.9,752.8 317.0,752.9 C319.1,752.9 320.3,751.4 321.5,752.0 C322.8,752.6 324.3,754.8 324.7,756.5 C325.1,758.1 324.6,760.4 323.8,761.9 C323.0,763.4 320.7,763.9 319.7,765.5 C318.7,767.2 318.1,769.6 317.9,771.9 C317.8,774.1 317.9,776.8 318.8,779.1 C319.7,781.4 322.1,783.0 323.3,785.4 C324.6,787.9 326.1,790.9 326.5,793.6 C326.9,796.3 326.6,799.3 325.6,801.7 C324.6,804.1 322.7,806.5 320.6,808.1 C318.6,809.6 315.8,810.9 313.4,811.2 C311.0,811.5 308.3,810.9 306.1,809.9 C304.0,808.9 301.8,807.5 300.3,805.3 C298.8,803.2 297.5,799.9 297.1,797.2 C296.7,794.5 297.3,791.6 298.0,789.1 C298.8,786.5 300.9,784.1 301.6,781.8 C302.4,779.6 302.9,777.6 302.5,775.5 C302.2,773.4 300.5,771.3 299.4,769.1 C298.2,767.0 296.6,764.9 295.7,762.8 C294.9,760.7 293.7,758.0 294.4,756.5Z" fill="#9a4049"/><g clip-path="url(#tc2)"><ellipse cx="311.6" cy="797.2" rx="13.1" ry="13.6" fill="#b66068" opacity="0.95" filter="url(#soft2)"/><ellipse cx="308.9" cy="799.9" rx="8.1" ry="8.1" fill="#c27279" opacity="0.7" filter="url(#soft2)"/><ellipse cx="308.9" cy="761.9" rx="11.8" ry="10.0" fill="#8c3741" opacity="0.9" filter="url(#soft2)"/><ellipse cx="322.4" cy="757.4" rx="3.6" ry="5.4" fill="#722830" opacity="0.9" filter="url(#soft2)"/><ellipse cx="309.8" cy="777.3" rx="8.1" ry="3.6" fill="#7e2e38" opacity="0.7" filter="url(#soft2)"/><ellipse cx="314.5" cy="801.3" rx="2.0" ry="1.3" fill="#f6e4e2" opacity="0.95" filter="url(#hl)"/><ellipse cx="306.1" cy="791.8" rx="1.4" ry="1.1" fill="#f6e4e2" opacity="0.5" filter="url(#hl)"/><ellipse cx="308.9" cy="766.4" rx="1.6" ry="1.4" fill="#d9a8a8" opacity="0.5" filter="url(#hl)"/></g></g>
</g>
<rect x="216.0" y="834.7" width="122.0" height="72.2" fill="#c285c4" filter="url(#he)"/>
<clipPath id="hc1"><rect x="216.0" y="834.7" width="122.0" height="72.2"/></clipPath>
<g clip-path="url(#hc1)" filter="url(#soft)" fill="none" stroke="#ea7cc4" stroke-linecap="round">
<line x1="216.0" y1="840.7" x2="225.0" y2="843.7" stroke-width="4" opacity="0.8"/>
<line x1="218.0" y1="835.7" x2="226.0" y2="837.7" stroke-width="2" opacity="0.7"/>
<line x1="225.0" y1="874.7" x2="238.0" y2="896.7" stroke-width="2.2" opacity="0.7"/>
<line x1="230.0" y1="881.7" x2="240.0" y2="883.7" stroke-width="2.5" opacity="0.6"/>
<line x1="238.0" y1="858.7" x2="250.0" y2="864.7" stroke-width="1.6" opacity="0.6"/>
<line x1="276.0" y1="900.7" x2="288.0" y2="894.7" stroke-width="1.5" opacity="0.5"/>
<line x1="264.0" y1="838.7" x2="291.0" y2="850.7" stroke-width="1.6" opacity="0.4"/>
<line x1="234.0" y1="886.7" x2="242.0" y2="894.7" stroke-width="3" opacity="0.6"/>
</g>
<line x1="219.00" y1="904.40" x2="224.00" y2="904.40" stroke="#000" stroke-width="0.8"/>
<g>
<rect x="555.20" y="740.90" width="56.50" height="86.80" fill="#2c8ad6" filter="url(#cloth)"/>
<rect x="555.20" y="816.80" width="56.50" height="10.90" fill="#5090d9"/>
<line x1="557.00" y1="818.00" x2="557.00" y2="827.70" stroke="#14245c" stroke-width="1.35"/>
<line x1="562.17" y1="818.00" x2="562.17" y2="827.70" stroke="#14245c" stroke-width="1.35"/>
<line x1="567.34" y1="818.00" x2="567.34" y2="827.70" stroke="#14245c" stroke-width="1.35"/>
<line x1="572.51" y1="818.00" x2="572.51" y2="827.70" stroke="#14245c" stroke-width="1.35"/>
<line x1="577.68" y1="818.00" x2="577.68" y2="827.70" stroke="#14245c" stroke-width="1.35"/>
<line x1="582.85" y1="818.00" x2="582.85" y2="827.70" stroke="#14245c" stroke-width="1.35"/>
<line x1="588.02" y1="818.00" x2="588.02" y2="827.70" stroke="#14245c" stroke-width="1.35"/>
<line x1="593.19" y1="818.00" x2="593.19" y2="827.70" stroke="#14245c" stroke-width="1.35"/>
<line x1="598.36" y1="818.00" x2="598.36" y2="827.70" stroke="#14245c" stroke-width="1.35"/>
<line x1="603.53" y1="818.00" x2="603.53" y2="827.70" stroke="#14245c" stroke-width="1.35"/>
<line x1="608.70" y1="818.00" x2="608.70" y2="827.70" stroke="#14245c" stroke-width="1.35"/>
<line x1="555.20" y1="817.10" x2="611.70" y2="817.10" stroke="#2f6fb8" stroke-width="0.7"/>
<clipPath id="tc3"><path d="M564.7,755.6 C564.9,754.3 566.3,751.7 568.7,750.7 C571.2,749.7 575.9,749.7 579.1,749.8 C582.4,749.8 585.9,750.4 588.2,751.1 C590.5,751.9 591.7,753.2 592.7,754.3 C593.8,755.3 594.5,755.8 594.5,757.5 C594.6,759.1 593.5,761.9 593.2,764.2 C592.9,766.6 592.5,769.1 592.7,771.5 C593.0,773.9 593.6,776.3 594.5,778.7 C595.5,781.1 597.9,783.7 598.6,786.0 C599.4,788.2 599.7,790.0 599.1,792.3 C598.4,794.6 596.6,797.5 594.5,799.5 C592.4,801.6 589.3,803.8 586.4,804.5 C583.5,805.2 579.9,803.9 577.3,803.6 C574.8,803.3 573.0,803.4 571.0,802.7 C569.0,802.0 567.0,801.0 565.6,799.5 C564.2,798.1 563.0,796.1 562.7,794.1 C562.4,792.1 562.7,789.7 563.8,787.8 C564.9,785.8 567.6,784.2 569.2,782.3 C570.8,780.5 572.7,779.0 573.3,776.9 C573.8,774.8 572.9,771.8 572.4,769.7 C571.8,767.6 570.9,766.1 570.1,764.2 C569.3,762.4 568.3,760.2 567.4,758.8 C566.5,757.4 564.4,757.0 564.7,755.6Z"/></clipPath><g filter="url(#soft)"><path d="M564.7,755.6 C564.9,754.3 566.3,751.7 568.7,750.7 C571.2,749.7 575.9,749.7 579.1,749.8 C582.4,749.8 585.9,750.4 588.2,751.1 C590.5,751.9 591.7,753.2 592.7,754.3 C593.8,755.3 594.5,755.8 594.5,757.5 C594.6,759.1 593.5,761.9 593.2,764.2 C592.9,766.6 592.5,769.1 592.7,771.5 C593.0,773.9 593.6,776.3 594.5,778.7 C595.5,781.1 597.9,783.7 598.6,786.0 C599.4,788.2 599.7,790.0 599.1,792.3 C598.4,794.6 596.6,797.5 594.5,799.5 C592.4,801.6 589.3,803.8 586.4,804.5 C583.5,805.2 579.9,803.9 577.3,803.6 C574.8,803.3 573.0,803.4 571.0,802.7 C569.0,802.0 567.0,801.0 565.6,799.5 C564.2,798.1 563.0,796.1 562.7,794.1 C562.4,792.1 562.7,789.7 563.8,787.8 C564.9,785.8 567.6,784.2 569.2,782.3 C570.8,780.5 572.7,779.0 573.3,776.9 C573.8,774.8 572.9,771.8 572.4,769.7 C571.8,767.6 570.9,766.1 570.1,764.2 C569.3,762.4 568.3,760.2 567.4,758.8 C566.5,757.4 564.4,757.0 564.7,755.6Z" fill="#7a3036"/><g clip-path="url(#tc3)"><ellipse cx="574.6" cy="794.1" rx="11.8" ry="8.1" fill="#a56668" opacity="0.9" filter="url(#soft2)"/><ellipse cx="581.9" cy="760.6" rx="10.0" ry="8.1" fill="#84343b" opacity="0.8" filter="url(#soft2)"/><ellipse cx="582.8" cy="774.2" rx="7.2" ry="5.4" fill="#6b262c" opacity="0.8" filter="url(#soft2)"/><ellipse cx="594.5" cy="790.5" rx="4.5" ry="10.9" fill="#69252b" opacity="0.7" filter="url(#soft2)"/><ellipse cx="582.3" cy="762.3" rx="2.7" ry="1.4" fill="#f6e4e2" opacity="0.75" filter="url(#hl)"/><ellipse cx="576.0" cy="787.3" rx="1.4" ry="1.1" fill="#f6e4e2" opacity="0.85" filter="url(#hl)"/><ellipse cx="579.1" cy="783.2" rx="1.1" ry="0.8" fill="#f6e4e2" opacity="0.7" filter="url(#hl)"/><ellipse cx="581.9" cy="786.0" rx="1.0" ry="0.8" fill="#f6e4e2" opacity="0.7" filter="url(#hl)"/><ellipse cx="577.8" cy="780.5" rx="0.9" ry="0.6" fill="#f6e4e2" opacity="0.6" filter="url(#hl)"/><ellipse cx="588.2" cy="787.3" rx="0.9" ry="1.1" fill="#f6e4e2" opacity="0.7" filter="url(#hl)"/><ellipse cx="590.9" cy="780.5" rx="0.7" ry="0.7" fill="#f6e4e2" opacity="0.5" filter="url(#hl)"/><ellipse cx="580.1" cy="793.2" rx="1.4" ry="1.1" fill="#e6cfcb" opacity="0.5" filter="url(#hl)"/><ellipse cx="571.0" cy="794.1" rx="6.3" ry="5.4" fill="#c59a98" opacity="0.55" filter="url(#soft2)"/></g></g>
</g>
<g>
<rect x="620.40" y="740.90" width="56.40" height="86.80" fill="#2c8ad6" filter="url(#cloth)"/>
<rect x="620.40" y="816.80" width="56.40" height="10.90" fill="#5090d9"/>
<line x1="622.20" y1="818.00" x2="622.20" y2="827.70" stroke="#14245c" stroke-width="1.35"/>
<line x1="627.37" y1="818.00" x2="627.37" y2="827.70" stroke="#14245c" stroke-width="1.35"/>
<line x1="632.54" y1="818.00" x2="632.54" y2="827.70" stroke="#14245c" stroke-width="1.35"/>
<line x1="637.71" y1="818.00" x2="637.71" y2="827.70" stroke="#14245c" stroke-width="1.35"/>
<line x1="642.88" y1="818.00" x2="642.88" y2="827.70" stroke="#14245c" stroke-width="1.35"/>
<line x1="648.05" y1="818.00" x2="648.05" y2="827.70" stroke="#14245c" stroke-width="1.35"/>
<line x1="653.22" y1="818.00" x2="653.22" y2="827.70" stroke="#14245c" stroke-width="1.35"/>
<line x1="658.39" y1="818.00" x2="658.39" y2="827.70" stroke="#14245c" stroke-width="1.35"/>
<line x1="663.56" y1="818.00" x2="663.56" y2="827.70" stroke="#14245c" stroke-width="1.35"/>
<line x1="668.73" y1="818.00" x2="668.73" y2="827.70" stroke="#14245c" stroke-width="1.35"/>
<line x1="673.90" y1="818.00" x2="673.90" y2="827.70" stroke="#14245c" stroke-width="1.35"/>
<line x1="620.40" y1="817.10" x2="676.80" y2="817.10" stroke="#b9d6f0" stroke-width="0.7"/>
<clipPath id="tc4"><path d="M636.0,754.3 C636.4,753.2 636.8,751.6 638.7,750.7 C640.7,749.8 644.6,749.1 647.8,748.9 C650.9,748.6 654.8,748.7 657.7,749.3 C660.7,749.9 664.2,751.1 665.4,752.5 C666.6,753.8 665.6,755.6 665.0,757.5 C664.3,759.3 662.2,761.5 661.3,763.3 C660.4,765.2 660.1,767.0 659.5,768.8 C659.0,770.6 657.7,772.2 658.2,774.2 C658.6,776.2 661.6,778.1 662.2,780.5 C662.9,782.9 662.7,785.8 662.2,788.7 C661.8,791.5 660.4,795.2 659.5,797.7 C658.6,800.3 658.2,802.6 656.8,804.1 C655.5,805.5 653.7,806.3 651.4,806.3 C649.1,806.3 646.0,805.3 643.2,804.1 C640.5,802.8 637.2,800.7 635.1,798.6 C633.0,796.5 631.3,794.0 630.6,791.4 C629.8,788.8 629.8,785.7 630.6,783.2 C631.3,780.8 633.2,778.6 635.1,776.9 C637.0,775.3 641.1,775.1 641.9,773.3 C642.7,771.5 640.6,768.3 640.1,766.1 C639.5,763.8 639.3,761.2 638.7,759.7 C638.1,758.2 636.9,757.9 636.5,757.0 C636.0,756.1 635.6,755.3 636.0,754.3Z"/></clipPath><g filter="url(#soft)"><path d="M636.0,754.3 C636.4,753.2 636.8,751.6 638.7,750.7 C640.7,749.8 644.6,749.1 647.8,748.9 C650.9,748.6 654.8,748.7 657.7,749.3 C660.7,749.9 664.2,751.1 665.4,752.5 C666.6,753.8 665.6,755.6 665.0,757.5 C664.3,759.3 662.2,761.5 661.3,763.3 C660.4,765.2 660.1,767.0 659.5,768.8 C659.0,770.6 657.7,772.2 658.2,774.2 C658.6,776.2 661.6,778.1 662.2,780.5 C662.9,782.9 662.7,785.8 662.2,788.7 C661.8,791.5 660.4,795.2 659.5,797.7 C658.6,800.3 658.2,802.6 656.8,804.1 C655.5,805.5 653.7,806.3 651.4,806.3 C649.1,806.3 646.0,805.3 643.2,804.1 C640.5,802.8 637.2,800.7 635.1,798.6 C633.0,796.5 631.3,794.0 630.6,791.4 C629.8,788.8 629.8,785.7 630.6,783.2 C631.3,780.8 633.2,778.6 635.1,776.9 C637.0,775.3 641.1,775.1 641.9,773.3 C642.7,771.5 640.6,768.3 640.1,766.1 C639.5,763.8 639.3,761.2 638.7,759.7 C638.1,758.2 636.9,757.9 636.5,757.0 C636.0,756.1 635.6,755.3 636.0,754.3Z" fill="#86333a"/><g clip-path="url(#tc4)"><ellipse cx="651.4" cy="754.3" rx="11.8" ry="5.4" fill="#84262e" opacity="0.9" filter="url(#soft2)"/><ellipse cx="646.0" cy="789.6" rx="14.9" ry="14.9" fill="#c79c9a" opacity="0.97" filter="url(#soft2)"/><ellipse cx="641.4" cy="786.9" rx="8.1" ry="9.0" fill="#d8b5b1" opacity="0.8" filter="url(#soft2)"/><ellipse cx="659.5" cy="795.9" rx="3.6" ry="10.0" fill="#8a4148" opacity="0.8" filter="url(#soft2)"/><ellipse cx="650.5" cy="772.4" rx="8.1" ry="3.2" fill="#a85a5f" opacity="0.7" filter="url(#soft2)"/><ellipse cx="650.7" cy="764.4" rx="1.1" ry="0.9" fill="#f6e4e2" opacity="0.95" filter="url(#hl)"/><ellipse cx="657.3" cy="759.0" rx="0.8" ry="1.1" fill="#f6e4e2" opacity="0.8" filter="url(#hl)"/><ellipse cx="659.5" cy="754.3" rx="0.6" ry="0.9" fill="#f6e4e2" opacity="0.7" filter="url(#hl)"/></g></g>
</g>
<rect x="554.2" y="833.1" width="122.0" height="73.1" fill="#c285c4" filter="url(#he)"/>
<rect x="554.2" y="833.1" width="122.0" height="73.1" fill="#9060c0" opacity="0.08"/>
<clipPath id="hc2"><rect x="554.2" y="833.1" width="122.0" height="73.1"/></clipPath>
<g clip-path="url(#hc2)" filter="url(#soft)" fill="none" stroke="#ea7cc4" stroke-linecap="round">
<line x1="564.2" y1="863.1" x2="594.2" y2="849.1" stroke-width="1.5" opacity="0.5"/>
<line x1="574.2" y1="895.1" x2="604.2" y2="885.1" stroke-width="1.5" opacity="0.4"/>
<line x1="624.2" y1="883.1" x2="654.2" y2="873.1" stroke-width="1.5" opacity="0.35"/>
</g>
<line x1="557.20" y1="903.70" x2="562.20" y2="903.70" stroke="#000" stroke-width="0.8"/>
<g>
<rect x="218.20" y="920.40" width="55.60" height="86.40" fill="#2c8ad6" filter="url(#cloth)"/>
<rect x="218.20" y="995.70" width="55.60" height="11.10" fill="#5090d9"/>
<line x1="220.00" y1="996.90" x2="220.00" y2="1006.80" stroke="#14245c" stroke-width="1.35"/>
<line x1="225.17" y1="996.90" x2="225.17" y2="1006.80" stroke="#14245c" stroke-width="1.35"/>
<line x1="230.34" y1="996.90" x2="230.34" y2="1006.80" stroke="#14245c" stroke-width="1.35"/>
<line x1="235.51" y1="996.90" x2="235.51" y2="1006.80" stroke="#14245c" stroke-width="1.35"/>
<line x1="240.68" y1="996.90" x2="240.68" y2="1006.80" stroke="#14245c" stroke-width="1.35"/>
<line x1="245.85" y1="996.90" x2="245.85" y2="1006.80" stroke="#14245c" stroke-width="1.35"/>
<line x1="251.02" y1="996.90" x2="251.02" y2="1006.80" stroke="#14245c" stroke-width="1.35"/>
<line x1="256.19" y1="996.90" x2="256.19" y2="1006.80" stroke="#14245c" stroke-width="1.35"/>
<line x1="261.36" y1="996.90" x2="261.36" y2="1006.80" stroke="#14245c" stroke-width="1.35"/>
<line x1="266.53" y1="996.90" x2="266.53" y2="1006.80" stroke="#14245c" stroke-width="1.35"/>
<line x1="271.70" y1="996.90" x2="271.70" y2="1006.80" stroke="#14245c" stroke-width="1.35"/>
<line x1="218.20" y1="996.00" x2="273.80" y2="996.00" stroke="#2f6fb8" stroke-width="0.7"/>
<clipPath id="tc5"><path d="M228.6,936.5 C229.7,935.6 233.1,935.2 235.8,934.2 C238.5,933.2 242.3,931.9 244.9,930.6 C247.4,929.2 248.9,927.3 251.2,926.0 C253.5,924.8 256.6,923.5 258.4,923.3 C260.2,923.2 261.8,923.9 262.1,925.1 C262.4,926.4 260.9,928.8 260.2,930.6 C259.6,932.4 258.1,933.9 258.0,936.0 C257.9,938.1 259.9,941.4 259.8,943.2 C259.7,945.1 258.7,945.7 257.5,946.9 C256.4,948.1 254.1,949.0 253.0,950.5 C251.9,952.0 250.4,954.0 250.7,955.9 C251.0,957.9 254.1,960.0 254.8,962.2 C255.6,964.5 255.4,966.8 255.3,969.5 C255.1,972.2 254.7,976.0 253.9,978.5 C253.1,981.1 252.1,983.2 250.3,984.9 C248.5,986.5 245.6,988.1 243.1,988.5 C240.5,988.9 237.6,988.2 234.9,987.1 C232.2,986.1 228.8,983.9 226.8,982.2 C224.7,980.4 223.4,978.7 222.7,976.7 C222.0,974.8 222.0,972.8 222.7,970.4 C223.4,968.0 224.8,964.5 226.8,962.2 C228.7,960.0 233.2,958.8 234.2,956.8 C235.2,954.9 233.4,952.6 232.6,950.5 C231.9,948.4 230.5,946.0 229.9,944.1 C229.3,942.3 229.3,940.9 229.0,939.6 C228.8,938.3 227.4,937.4 228.6,936.5Z"/></clipPath><g filter="url(#soft)"><path d="M228.6,936.5 C229.7,935.6 233.1,935.2 235.8,934.2 C238.5,933.2 242.3,931.9 244.9,930.6 C247.4,929.2 248.9,927.3 251.2,926.0 C253.5,924.8 256.6,923.5 258.4,923.3 C260.2,923.2 261.8,923.9 262.1,925.1 C262.4,926.4 260.9,928.8 260.2,930.6 C259.6,932.4 258.1,933.9 258.0,936.0 C257.9,938.1 259.9,941.4 259.8,943.2 C259.7,945.1 258.7,945.7 257.5,946.9 C256.4,948.1 254.1,949.0 253.0,950.5 C251.9,952.0 250.4,954.0 250.7,955.9 C251.0,957.9 254.1,960.0 254.8,962.2 C255.6,964.5 255.4,966.8 255.3,969.5 C255.1,972.2 254.7,976.0 253.9,978.5 C253.1,981.1 252.1,983.2 250.3,984.9 C248.5,986.5 245.6,988.1 243.1,988.5 C240.5,988.9 237.6,988.2 234.9,987.1 C232.2,986.1 228.8,983.9 226.8,982.2 C224.7,980.4 223.4,978.7 222.7,976.7 C222.0,974.8 222.0,972.8 222.7,970.4 C223.4,968.0 224.8,964.5 226.8,962.2 C228.7,960.0 233.2,958.8 234.2,956.8 C235.2,954.9 233.4,952.6 232.6,950.5 C231.9,948.4 230.5,946.0 229.9,944.1 C229.3,942.3 229.3,940.9 229.0,939.6 C228.8,938.3 227.4,937.4 228.6,936.5Z" fill="#90454c"/><g clip-path="url(#tc5)"><ellipse cx="237.6" cy="974.9" rx="13.6" ry="11.8" fill="#b8787b" opacity="0.95" filter="url(#soft2)"/><ellipse cx="231.3" cy="976.7" rx="7.2" ry="8.1" fill="#c79496" opacity="0.8" filter="url(#soft2)"/><ellipse cx="242.1" cy="944.1" rx="11.8" ry="10.0" fill="#8d4047" opacity="0.9" filter="url(#soft2)"/><ellipse cx="254.8" cy="930.6" rx="6.3" ry="6.3" fill="#742a31" opacity="0.9" filter="url(#soft2)"/><ellipse cx="242.1" cy="957.3" rx="8.1" ry="2.3" fill="#863239" opacity="0.8" filter="url(#soft2)"/><ellipse cx="253.0" cy="973.1" rx="3.6" ry="10.9" fill="#91484e" opacity="0.7" filter="url(#soft2)"/><ellipse cx="251.2" cy="932.2" rx="1.6" ry="0.9" fill="#f6e4e2" opacity="0.8" filter="url(#hl)"/><ellipse cx="244.9" cy="961.3" rx="3.6" ry="1.6" fill="#eacfcc" opacity="0.7" filter="url(#hl)"/><ellipse cx="246.2" cy="944.1" rx="2.7" ry="2.0" fill="#d9a8a8" opacity="0.55" filter="url(#hl)"/><ellipse cx="257.5" cy="926.0" rx="0.9" ry="0.9" fill="#f6e4e2" opacity="0.6" filter="url(#hl)"/><ellipse cx="237.2" cy="967.7" rx="1.3" ry="0.9" fill="#f6e4e2" opacity="0.5" filter="url(#hl)"/></g></g>
</g>
<g>
<rect x="283.20" y="920.40" width="55.60" height="86.40" fill="#2c8ad6" filter="url(#cloth)"/>
<rect x="283.20" y="995.70" width="55.60" height="11.10" fill="#5090d9"/>
<line x1="285.00" y1="996.90" x2="285.00" y2="1006.80" stroke="#14245c" stroke-width="1.35"/>
<line x1="290.17" y1="996.90" x2="290.17" y2="1006.80" stroke="#14245c" stroke-width="1.35"/>
<line x1="295.34" y1="996.90" x2="295.34" y2="1006.80" stroke="#14245c" stroke-width="1.35"/>
<line x1="300.51" y1="996.90" x2="300.51" y2="1006.80" stroke="#14245c" stroke-width="1.35"/>
<line x1="305.68" y1="996.90" x2="305.68" y2="1006.80" stroke="#14245c" stroke-width="1.35"/>
<line x1="310.85" y1="996.90" x2="310.85" y2="1006.80" stroke="#14245c" stroke-width="1.35"/>
<line x1="316.02" y1="996.90" x2="316.02" y2="1006.80" stroke="#14245c" stroke-width="1.35"/>
<line x1="321.19" y1="996.90" x2="321.19" y2="1006.80" stroke="#14245c" stroke-width="1.35"/>
<line x1="326.36" y1="996.90" x2="326.36" y2="1006.80" stroke="#14245c" stroke-width="1.35"/>
<line x1="331.53" y1="996.90" x2="331.53" y2="1006.80" stroke="#14245c" stroke-width="1.35"/>
<line x1="336.70" y1="996.90" x2="336.70" y2="1006.80" stroke="#14245c" stroke-width="1.35"/>
<line x1="283.20" y1="996.00" x2="338.80" y2="996.00" stroke="#2f6fb8" stroke-width="0.7"/>
<clipPath id="tc6"><path d="M299.0,936.5 C300.1,935.3 303.7,935.8 305.3,934.6 C307.0,933.5 307.6,931.1 309.0,929.7 C310.3,928.2 311.7,926.5 313.5,926.0 C315.3,925.6 317.9,926.2 319.8,927.0 C321.8,927.7 323.4,929.7 325.2,930.6 C327.1,931.5 329.4,931.4 330.7,932.4 C332.0,933.4 332.9,935.2 332.9,936.5 C332.9,937.7 332.0,939.2 330.7,940.1 C329.4,940.9 326.9,940.5 325.2,941.4 C323.6,942.4 321.9,944.0 320.7,946.0 C319.5,947.9 318.5,950.9 318.0,953.2 C317.6,955.5 317.4,957.6 318.0,959.5 C318.6,961.5 320.1,963.3 321.6,965.0 C323.1,966.6 325.8,967.8 327.1,969.5 C328.3,971.1 329.5,972.8 329.3,974.9 C329.2,977.0 327.7,980.0 326.2,982.2 C324.6,984.3 322.2,986.4 319.8,987.6 C317.4,988.8 314.4,989.4 311.7,989.4 C309.0,989.4 305.9,988.6 303.5,987.6 C301.1,986.5 298.8,985.0 297.2,983.1 C295.6,981.1 294.5,978.2 294.0,975.8 C293.6,973.4 293.7,970.8 294.5,968.6 C295.3,966.3 297.9,964.4 299.0,962.2 C300.1,960.1 301.2,958.3 301.3,955.9 C301.3,953.5 299.8,950.2 299.5,947.8 C299.1,945.4 299.1,943.3 299.0,941.4 C298.9,939.5 297.9,937.6 299.0,936.5Z"/></clipPath><g filter="url(#soft)"><path d="M299.0,936.5 C300.1,935.3 303.7,935.8 305.3,934.6 C307.0,933.5 307.6,931.1 309.0,929.7 C310.3,928.2 311.7,926.5 313.5,926.0 C315.3,925.6 317.9,926.2 319.8,927.0 C321.8,927.7 323.4,929.7 325.2,930.6 C327.1,931.5 329.4,931.4 330.7,932.4 C332.0,933.4 332.9,935.2 332.9,936.5 C332.9,937.7 332.0,939.2 330.7,940.1 C329.4,940.9 326.9,940.5 325.2,941.4 C323.6,942.4 321.9,944.0 320.7,946.0 C319.5,947.9 318.5,950.9 318.0,953.2 C317.6,955.5 317.4,957.6 318.0,959.5 C318.6,961.5 320.1,963.3 321.6,965.0 C323.1,966.6 325.8,967.8 327.1,969.5 C328.3,971.1 329.5,972.8 329.3,974.9 C329.2,977.0 327.7,980.0 326.2,982.2 C324.6,984.3 322.2,986.4 319.8,987.6 C317.4,988.8 314.4,989.4 311.7,989.4 C309.0,989.4 305.9,988.6 303.5,987.6 C301.1,986.5 298.8,985.0 297.2,983.1 C295.6,981.1 294.5,978.2 294.0,975.8 C293.6,973.4 293.7,970.8 294.5,968.6 C295.3,966.3 297.9,964.4 299.0,962.2 C300.1,960.1 301.2,958.3 301.3,955.9 C301.3,953.5 299.8,950.2 299.5,947.8 C299.1,945.4 299.1,943.3 299.0,941.4 C298.9,939.5 297.9,937.6 299.0,936.5Z" fill="#903e44"/><g clip-path="url(#tc6)"><ellipse cx="311.7" cy="976.7" rx="15.4" ry="11.8" fill="#a85a5e" opacity="0.95" filter="url(#soft2)"/><ellipse cx="305.3" cy="978.5" rx="8.1" ry="7.2" fill="#b26a6e" opacity="0.7" filter="url(#soft2)"/><ellipse cx="309.0" cy="946.0" rx="9.0" ry="10.0" fill="#914047" opacity="0.9" filter="url(#soft2)"/><ellipse cx="321.6" cy="933.3" rx="10.9" ry="6.3" fill="#6a242b" opacity="0.95" filter="url(#soft2)"/><ellipse cx="311.7" cy="959.5" rx="6.3" ry="3.6" fill="#83333a" opacity="0.7" filter="url(#soft2)"/><ellipse cx="318.5" cy="931.5" rx="0.9" ry="0.7" fill="#f6e4e2" opacity="0.9" filter="url(#hl)"/><ellipse cx="313.9" cy="946.9" rx="2.0" ry="1.3" fill="#e0b4b4" opacity="0.7" filter="url(#hl)"/><ellipse cx="314.8" cy="963.2" rx="1.8" ry="1.3" fill="#e0b4b4" opacity="0.6" filter="url(#hl)"/><ellipse cx="315.3" cy="974.9" rx="2.5" ry="1.6" fill="#d9a0a2" opacity="0.6" filter="url(#hl)"/><ellipse cx="324.8" cy="935.1" rx="0.7" ry="0.7" fill="#f6e4e2" opacity="0.6" filter="url(#hl)"/></g></g>
</g>
<rect x="218.1" y="1010.9" width="120.7" height="73.0" fill="#c285c4" filter="url(#he)"/>
<rect x="218.1" y="1010.9" width="120.7" height="73.0" fill="#7a58b8" opacity="0.16"/>
<clipPath id="hc3"><rect x="218.1" y="1010.9" width="120.7" height="73.0"/></clipPath>
<g clip-path="url(#hc3)" filter="url(#soft)" fill="none" stroke="#ea7cc4" stroke-linecap="round">
<line x1="220.1" y1="1050.9" x2="228.1" y2="1066.9" stroke-width="1.6" opacity="0.5"/>
<line x1="238.1" y1="1040.9" x2="258.1" y2="1020.9" stroke-width="1.4" opacity="0.4"/>
<line x1="278.1" y1="1050.9" x2="298.1" y2="1034.9" stroke-width="1.4" opacity="0.35"/>
</g>
<line x1="221.10" y1="1081.40" x2="226.10" y2="1081.40" stroke="#000" stroke-width="0.8"/>
</g>
</svg>
</body></html>
